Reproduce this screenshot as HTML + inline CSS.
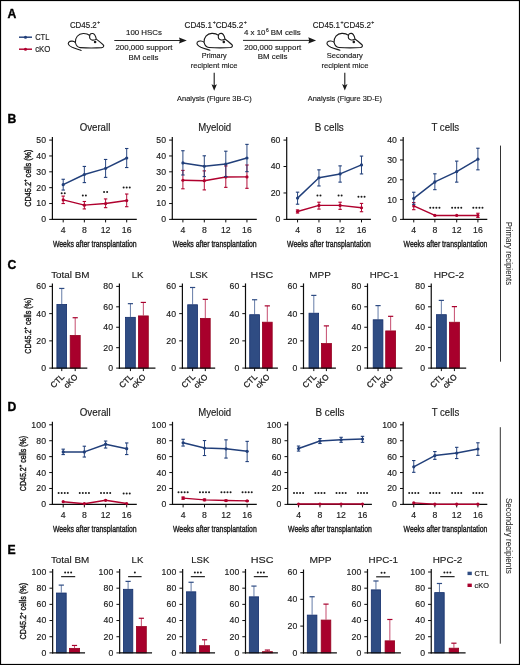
<!DOCTYPE html>
<html><head><meta charset="utf-8"><style>
html,body{margin:0;padding:0;background:#fff;}
svg{display:block;font-family:"Liberation Sans", sans-serif;will-change:transform;}
</style></head><body>
<svg width="520" height="665" viewBox="0 0 520 665">
<rect x="0.5" y="0.5" width="519" height="664" fill="#fff" stroke="#000" stroke-width="1.2"/>
<text x="7.40" y="17.60" font-size="12.2" text-anchor="start" font-weight="bold" fill="#000"  stroke="#000" stroke-width="0.35">A</text>
<text x="7.40" y="122.80" font-size="12.2" text-anchor="start" font-weight="bold" fill="#000"  stroke="#000" stroke-width="0.35">B</text>
<text x="7.40" y="269.30" font-size="12.2" text-anchor="start" font-weight="bold" fill="#000"  stroke="#000" stroke-width="0.35">C</text>
<text x="7.40" y="410.70" font-size="12.2" text-anchor="start" font-weight="bold" fill="#000"  stroke="#000" stroke-width="0.35">D</text>
<text x="7.40" y="554.00" font-size="12.2" text-anchor="start" font-weight="bold" fill="#000"  stroke="#000" stroke-width="0.35">E</text>
<line x1="19.00" y1="37.20" x2="32.00" y2="37.20" stroke="#213f7a" stroke-width="1.45" />
<circle cx="25.5" cy="37.2" r="1.55" fill="#213f7a"/>
<line x1="19.00" y1="49.20" x2="32.00" y2="49.20" stroke="#b0002e" stroke-width="1.45" />
<circle cx="25.5" cy="49.2" r="1.55" fill="#b0002e"/>
<text x="35.20" y="40.40" font-size="8.4" text-anchor="start" font-weight="normal" fill="#1a1a1a" textLength="14.2" lengthAdjust="spacingAndGlyphs"  stroke="#1a1a1a" stroke-width="0.15">CTL</text>
<text x="35.20" y="52.40" font-size="8.4" text-anchor="start" font-weight="normal" fill="#1a1a1a" textLength="15.3" lengthAdjust="spacingAndGlyphs"  stroke="#1a1a1a" stroke-width="0.15">cKO</text>
<text x="69.90" y="27.90" font-size="8.4" text-anchor="start" fill="#1a1a1a" stroke="#1a1a1a" stroke-width="0.15" textLength="30.2" lengthAdjust="spacingAndGlyphs">CD45.2<tspan font-size="5.2" dx="0.5" dy="-3.7">+</tspan></text>
<text x="184.50" y="27.90" font-size="8.4" text-anchor="start" fill="#1a1a1a" stroke="#1a1a1a" stroke-width="0.15" textLength="62.4" lengthAdjust="spacingAndGlyphs">CD45.1<tspan font-size="5.4" dx="0.5" dy="-3.9">+</tspan><tspan dy="3.9">CD45.2</tspan><tspan font-size="5.4" dx="0.5" dy="-3.9">+</tspan></text>
<text x="312.80" y="27.90" font-size="8.4" text-anchor="start" fill="#1a1a1a" stroke="#1a1a1a" stroke-width="0.15" textLength="61.6" lengthAdjust="spacingAndGlyphs">CD45.1<tspan font-size="5.4" dx="0.5" dy="-3.9">+</tspan><tspan dy="3.9">CD45.2</tspan><tspan font-size="5.4" dx="0.5" dy="-3.9">+</tspan></text>
<line x1="114.30" y1="40.50" x2="181.80" y2="40.50" stroke="#1a1a1a" stroke-width="0.95" />
<path d="M186.80,40.50 L179.00,37.40 L179.90,40.50 L179.00,43.60 Z" fill="#1a1a1a"/>
<line x1="243.00" y1="40.40" x2="311.10" y2="40.40" stroke="#1a1a1a" stroke-width="0.95" />
<path d="M316.10,40.40 L308.30,37.30 L309.20,40.40 L308.30,43.50 Z" fill="#1a1a1a"/>
<line x1="214.20" y1="72.70" x2="214.20" y2="86.80" stroke="#1a1a1a" stroke-width="1.1" />
<path d="M214.20,90.80 L211.50,84.30 L214.20,85.60 L216.90,84.30 Z" fill="#1a1a1a"/>
<line x1="344.80" y1="72.70" x2="344.80" y2="86.60" stroke="#1a1a1a" stroke-width="1.1" />
<path d="M344.80,90.60 L342.10,84.10 L344.80,85.40 L347.50,84.10 Z" fill="#1a1a1a"/>
<text x="144.00" y="34.90" font-size="7.9" text-anchor="middle" font-weight="normal" fill="#1a1a1a"  stroke="#1a1a1a" stroke-width="0.15">100 HSCs</text>
<text x="144.00" y="49.80" font-size="7.9" text-anchor="middle" font-weight="normal" fill="#1a1a1a"  stroke="#1a1a1a" stroke-width="0.15">200,000 support</text>
<text x="143.50" y="59.60" font-size="7.9" text-anchor="middle" font-weight="normal" fill="#1a1a1a"  stroke="#1a1a1a" stroke-width="0.15">BM cells</text>
<text x="272.30" y="35.00" font-size="7.9" text-anchor="middle" fill="#1a1a1a" stroke="#1a1a1a" stroke-width="0.15">4 x 10<tspan font-size="4.9" dx="0.5" dy="-3.3">6</tspan><tspan dy="3.3"> BM cells</tspan></text>
<text x="272.70" y="49.60" font-size="7.9" text-anchor="middle" font-weight="normal" fill="#1a1a1a"  stroke="#1a1a1a" stroke-width="0.15">200,000 support</text>
<text x="272.60" y="59.20" font-size="7.9" text-anchor="middle" font-weight="normal" fill="#1a1a1a"  stroke="#1a1a1a" stroke-width="0.15">BM cells</text>
<text x="214.20" y="57.85" font-size="7.9" text-anchor="middle" font-weight="normal" fill="#1a1a1a" textLength="25.0" lengthAdjust="spacingAndGlyphs"  stroke="#1a1a1a" stroke-width="0.15">Primary</text>
<text x="214.10" y="67.80" font-size="7.9" text-anchor="middle" font-weight="normal" fill="#1a1a1a" textLength="46.8" lengthAdjust="spacingAndGlyphs"  stroke="#1a1a1a" stroke-width="0.15">recipient mice</text>
<text x="344.70" y="57.85" font-size="7.9" text-anchor="middle" font-weight="normal" fill="#1a1a1a" textLength="36.0" lengthAdjust="spacingAndGlyphs"  stroke="#1a1a1a" stroke-width="0.15">Secondary</text>
<text x="344.90" y="67.80" font-size="7.9" text-anchor="middle" font-weight="normal" fill="#1a1a1a" textLength="47.0" lengthAdjust="spacingAndGlyphs"  stroke="#1a1a1a" stroke-width="0.15">recipient mice</text>
<text x="214.40" y="100.60" font-size="7.9" text-anchor="middle" font-weight="normal" fill="#1a1a1a" textLength="74.6" lengthAdjust="spacingAndGlyphs"  stroke="#1a1a1a" stroke-width="0.15">Analysis (Figure 3B-C)</text>
<text x="344.90" y="100.55" font-size="7.9" text-anchor="middle" font-weight="normal" fill="#1a1a1a" textLength="74.2" lengthAdjust="spacingAndGlyphs"  stroke="#1a1a1a" stroke-width="0.15">Analysis (Figure 3D-E)</text>
<g transform="translate(68.20,43.50)"><path d="M7.2,-1 C6.8,-5.8 10,-9.9 15,-10 C18,-10.1 20.2,-9.2 21.6,-8.0 C21.6,-9.7 23.2,-10.2 24.6,-10 C26.4,-9.7 27.4,-7.6 28.1,-4.4 C31,-2.2 34.2,0.2 35.4,1.8 C35.8,2.9 35.2,3.9 33.5,4.1 C27,4.6 18,4.5 12,4.1 C9.6,3.9 8,2.5 7.2,-1 M21.6,-8.0 C21.1,-6.2 21.6,-4.3 23.6,-3.6 C25,-3.1 26.8,-3.5 28.1,-4.4 M7.2,-1 C5.6,-2.6 2.2,-3 0.4,-1.2 C-0.8,0.6 1.2,2.6 4,3.8 C7,5 10.4,6 13,6.9" fill="none" stroke="#1a1a1a" stroke-width="1.1" stroke-linecap="round" stroke-linejoin="round"/><circle cx="26.9" cy="-1.5" r="1.3" fill="#1a1a1a"/></g>
<g transform="translate(196.90,43.40)"><path d="M7.2,-1 C6.8,-5.8 10,-9.9 15,-10 C18,-10.1 20.2,-9.2 21.6,-8.0 C21.6,-9.7 23.2,-10.2 24.6,-10 C26.4,-9.7 27.4,-7.6 28.1,-4.4 C31,-2.2 34.2,0.2 35.4,1.8 C35.8,2.9 35.2,3.9 33.5,4.1 C27,4.6 18,4.5 12,4.1 C9.6,3.9 8,2.5 7.2,-1 M21.6,-8.0 C21.1,-6.2 21.6,-4.3 23.6,-3.6 C25,-3.1 26.8,-3.5 28.1,-4.4 M7.2,-1 C5.6,-2.6 2.2,-3 0.4,-1.2 C-0.8,0.6 1.2,2.6 4,3.8 C7,5 10.4,6 13,6.9" fill="none" stroke="#1a1a1a" stroke-width="1.1" stroke-linecap="round" stroke-linejoin="round"/><circle cx="26.9" cy="-1.5" r="1.3" fill="#1a1a1a"/></g>
<g transform="translate(326.90,43.40)"><path d="M7.2,-1 C6.8,-5.8 10,-9.9 15,-10 C18,-10.1 20.2,-9.2 21.6,-8.0 C21.6,-9.7 23.2,-10.2 24.6,-10 C26.4,-9.7 27.4,-7.6 28.1,-4.4 C31,-2.2 34.2,0.2 35.4,1.8 C35.8,2.9 35.2,3.9 33.5,4.1 C27,4.6 18,4.5 12,4.1 C9.6,3.9 8,2.5 7.2,-1 M21.6,-8.0 C21.1,-6.2 21.6,-4.3 23.6,-3.6 C25,-3.1 26.8,-3.5 28.1,-4.4 M7.2,-1 C5.6,-2.6 2.2,-3 0.4,-1.2 C-0.8,0.6 1.2,2.6 4,3.8 C7,5 10.4,6 13,6.9" fill="none" stroke="#1a1a1a" stroke-width="1.1" stroke-linecap="round" stroke-linejoin="round"/><circle cx="26.9" cy="-1.5" r="1.3" fill="#1a1a1a"/></g>
<line x1="52.40" y1="137.10" x2="52.40" y2="220.00" stroke="#0d0d0d" stroke-width="1.2" />
<line x1="49.20" y1="219.40" x2="52.40" y2="219.40" stroke="#0d0d0d" stroke-width="1.0" />
<text x="46.30" y="222.35" font-size="8.7" text-anchor="end" fill="#1a1a1a" stroke="#1a1a1a" stroke-width="0.15" letter-spacing="0.15">0</text>
<line x1="49.20" y1="203.54" x2="52.40" y2="203.54" stroke="#0d0d0d" stroke-width="1.0" />
<text x="46.30" y="206.49" font-size="8.7" text-anchor="end" fill="#1a1a1a" stroke="#1a1a1a" stroke-width="0.15" letter-spacing="0.15">10</text>
<line x1="49.20" y1="187.68" x2="52.40" y2="187.68" stroke="#0d0d0d" stroke-width="1.0" />
<text x="46.30" y="190.63" font-size="8.7" text-anchor="end" fill="#1a1a1a" stroke="#1a1a1a" stroke-width="0.15" letter-spacing="0.15">20</text>
<line x1="49.20" y1="171.82" x2="52.40" y2="171.82" stroke="#0d0d0d" stroke-width="1.0" />
<text x="46.30" y="174.77" font-size="8.7" text-anchor="end" fill="#1a1a1a" stroke="#1a1a1a" stroke-width="0.15" letter-spacing="0.15">30</text>
<line x1="49.20" y1="155.96" x2="52.40" y2="155.96" stroke="#0d0d0d" stroke-width="1.0" />
<text x="46.30" y="158.91" font-size="8.7" text-anchor="end" fill="#1a1a1a" stroke="#1a1a1a" stroke-width="0.15" letter-spacing="0.15">40</text>
<line x1="49.20" y1="140.10" x2="52.40" y2="140.10" stroke="#0d0d0d" stroke-width="1.0" />
<text x="46.30" y="143.05" font-size="8.7" text-anchor="end" fill="#1a1a1a" stroke="#1a1a1a" stroke-width="0.15" letter-spacing="0.15">50</text>
<line x1="51.85" y1="219.40" x2="136.80" y2="219.40" stroke="#0d0d0d" stroke-width="1.2" />
<line x1="63.20" y1="219.40" x2="63.20" y2="222.40" stroke="#0d0d0d" stroke-width="1.0" />
<text x="63.20" y="233.30" font-size="8.7" text-anchor="middle" font-weight="normal" fill="#1a1a1a"  stroke="#1a1a1a" stroke-width="0.15">4</text>
<line x1="84.35" y1="219.40" x2="84.35" y2="222.40" stroke="#0d0d0d" stroke-width="1.0" />
<text x="84.35" y="233.30" font-size="8.7" text-anchor="middle" font-weight="normal" fill="#1a1a1a"  stroke="#1a1a1a" stroke-width="0.15">8</text>
<line x1="105.60" y1="219.40" x2="105.60" y2="222.40" stroke="#0d0d0d" stroke-width="1.0" />
<text x="105.60" y="233.30" font-size="8.7" text-anchor="middle" font-weight="normal" fill="#1a1a1a"  stroke="#1a1a1a" stroke-width="0.15">12</text>
<line x1="126.70" y1="219.40" x2="126.70" y2="222.40" stroke="#0d0d0d" stroke-width="1.0" />
<text x="126.70" y="233.30" font-size="8.7" text-anchor="middle" font-weight="normal" fill="#1a1a1a"  stroke="#1a1a1a" stroke-width="0.15">16</text>
<text x="94.80" y="247.00" font-size="9.8" text-anchor="middle" font-weight="normal" fill="#1a1a1a" textLength="83.8" lengthAdjust="spacingAndGlyphs"  stroke="#1a1a1a" stroke-width="0.4">Weeks after transplantation</text>
<text x="95.00" y="131.35" font-size="10.1" text-anchor="middle" font-weight="normal" fill="#1a1a1a" textLength="30.6" lengthAdjust="spacingAndGlyphs"  stroke="#1a1a1a" stroke-width="0.15">Overall</text>
<line x1="63.20" y1="196.09" x2="63.20" y2="203.54" stroke="#b0002e" stroke-width="0.95" />
<line x1="61.50" y1="196.09" x2="64.90" y2="196.09" stroke="#b0002e" stroke-width="1.1" />
<line x1="61.50" y1="203.54" x2="64.90" y2="203.54" stroke="#b0002e" stroke-width="1.1" />
<line x1="84.35" y1="201.48" x2="84.35" y2="208.93" stroke="#b0002e" stroke-width="0.95" />
<line x1="82.65" y1="201.48" x2="86.05" y2="201.48" stroke="#b0002e" stroke-width="1.1" />
<line x1="82.65" y1="208.93" x2="86.05" y2="208.93" stroke="#b0002e" stroke-width="1.1" />
<line x1="105.60" y1="198.94" x2="105.60" y2="207.66" stroke="#b0002e" stroke-width="0.95" />
<line x1="103.90" y1="198.94" x2="107.30" y2="198.94" stroke="#b0002e" stroke-width="1.1" />
<line x1="103.90" y1="207.66" x2="107.30" y2="207.66" stroke="#b0002e" stroke-width="1.1" />
<line x1="126.70" y1="194.02" x2="126.70" y2="206.71" stroke="#b0002e" stroke-width="0.95" />
<line x1="125.00" y1="194.02" x2="128.40" y2="194.02" stroke="#b0002e" stroke-width="1.1" />
<line x1="125.00" y1="206.71" x2="128.40" y2="206.71" stroke="#b0002e" stroke-width="1.1" />
<polyline points="63.20,199.89 84.35,205.13 105.60,203.54 126.70,200.53" fill="none" stroke="#b0002e" stroke-width="1.45" stroke-linejoin="round"/>
<circle cx="63.20" cy="199.89" r="1.6" fill="#b0002e"/>
<circle cx="84.35" cy="205.13" r="1.6" fill="#b0002e"/>
<circle cx="105.60" cy="203.54" r="1.6" fill="#b0002e"/>
<circle cx="126.70" cy="200.53" r="1.6" fill="#b0002e"/>
<line x1="63.20" y1="179.27" x2="63.20" y2="190.06" stroke="#213f7a" stroke-width="0.95" />
<line x1="61.50" y1="179.27" x2="64.90" y2="179.27" stroke="#213f7a" stroke-width="1.1" />
<line x1="61.50" y1="190.06" x2="64.90" y2="190.06" stroke="#213f7a" stroke-width="1.1" />
<line x1="84.35" y1="166.43" x2="84.35" y2="182.60" stroke="#213f7a" stroke-width="0.95" />
<line x1="82.65" y1="166.43" x2="86.05" y2="166.43" stroke="#213f7a" stroke-width="1.1" />
<line x1="82.65" y1="182.60" x2="86.05" y2="182.60" stroke="#213f7a" stroke-width="1.1" />
<line x1="105.60" y1="159.45" x2="105.60" y2="177.37" stroke="#213f7a" stroke-width="0.95" />
<line x1="103.90" y1="159.45" x2="107.30" y2="159.45" stroke="#213f7a" stroke-width="1.1" />
<line x1="103.90" y1="177.37" x2="107.30" y2="177.37" stroke="#213f7a" stroke-width="1.1" />
<line x1="126.70" y1="148.51" x2="126.70" y2="167.54" stroke="#213f7a" stroke-width="0.95" />
<line x1="125.00" y1="148.51" x2="128.40" y2="148.51" stroke="#213f7a" stroke-width="1.1" />
<line x1="125.00" y1="167.54" x2="128.40" y2="167.54" stroke="#213f7a" stroke-width="1.1" />
<polyline points="63.20,184.67 84.35,174.52 105.60,168.33 126.70,158.02" fill="none" stroke="#213f7a" stroke-width="1.45" stroke-linejoin="round"/>
<circle cx="63.20" cy="184.67" r="1.6" fill="#213f7a"/>
<circle cx="84.35" cy="174.52" r="1.6" fill="#213f7a"/>
<circle cx="105.60" cy="168.33" r="1.6" fill="#213f7a"/>
<circle cx="126.70" cy="158.02" r="1.6" fill="#213f7a"/>
<circle cx="61.68" cy="193.30" r="1.0" fill="#1a1a1a"/>
<circle cx="64.73" cy="193.30" r="1.0" fill="#1a1a1a"/>
<circle cx="82.82" cy="195.40" r="1.0" fill="#1a1a1a"/>
<circle cx="85.88" cy="195.40" r="1.0" fill="#1a1a1a"/>
<circle cx="104.07" cy="192.10" r="1.0" fill="#1a1a1a"/>
<circle cx="107.12" cy="192.10" r="1.0" fill="#1a1a1a"/>
<circle cx="123.65" cy="187.50" r="1.0" fill="#1a1a1a"/>
<circle cx="126.70" cy="187.50" r="1.0" fill="#1a1a1a"/>
<circle cx="129.75" cy="187.50" r="1.0" fill="#1a1a1a"/>
<text transform="translate(30.90,178.10) rotate(-90)" x="0" y="0" font-size="9.9" text-anchor="middle" fill="#1a1a1a" stroke="#1a1a1a" stroke-width="0.42" textLength="57.2" lengthAdjust="spacingAndGlyphs">CD45.2<tspan font-size="5.94" dy="-3.6">+</tspan><tspan dy="3.6"> cells (%)</tspan></text>
<line x1="172.30" y1="137.10" x2="172.30" y2="220.00" stroke="#0d0d0d" stroke-width="1.2" />
<line x1="169.10" y1="219.40" x2="172.30" y2="219.40" stroke="#0d0d0d" stroke-width="1.0" />
<text x="166.20" y="222.35" font-size="8.7" text-anchor="end" fill="#1a1a1a" stroke="#1a1a1a" stroke-width="0.15" letter-spacing="0.15">0</text>
<line x1="169.10" y1="203.54" x2="172.30" y2="203.54" stroke="#0d0d0d" stroke-width="1.0" />
<text x="166.20" y="206.49" font-size="8.7" text-anchor="end" fill="#1a1a1a" stroke="#1a1a1a" stroke-width="0.15" letter-spacing="0.15">10</text>
<line x1="169.10" y1="187.68" x2="172.30" y2="187.68" stroke="#0d0d0d" stroke-width="1.0" />
<text x="166.20" y="190.63" font-size="8.7" text-anchor="end" fill="#1a1a1a" stroke="#1a1a1a" stroke-width="0.15" letter-spacing="0.15">20</text>
<line x1="169.10" y1="171.82" x2="172.30" y2="171.82" stroke="#0d0d0d" stroke-width="1.0" />
<text x="166.20" y="174.77" font-size="8.7" text-anchor="end" fill="#1a1a1a" stroke="#1a1a1a" stroke-width="0.15" letter-spacing="0.15">30</text>
<line x1="169.10" y1="155.96" x2="172.30" y2="155.96" stroke="#0d0d0d" stroke-width="1.0" />
<text x="166.20" y="158.91" font-size="8.7" text-anchor="end" fill="#1a1a1a" stroke="#1a1a1a" stroke-width="0.15" letter-spacing="0.15">40</text>
<line x1="169.10" y1="140.10" x2="172.30" y2="140.10" stroke="#0d0d0d" stroke-width="1.0" />
<text x="166.20" y="143.05" font-size="8.7" text-anchor="end" fill="#1a1a1a" stroke="#1a1a1a" stroke-width="0.15" letter-spacing="0.15">50</text>
<line x1="171.75" y1="219.40" x2="256.80" y2="219.40" stroke="#0d0d0d" stroke-width="1.2" />
<line x1="182.90" y1="219.40" x2="182.90" y2="222.40" stroke="#0d0d0d" stroke-width="1.0" />
<text x="182.90" y="233.30" font-size="8.7" text-anchor="middle" font-weight="normal" fill="#1a1a1a"  stroke="#1a1a1a" stroke-width="0.15">4</text>
<line x1="204.30" y1="219.40" x2="204.30" y2="222.40" stroke="#0d0d0d" stroke-width="1.0" />
<text x="204.30" y="233.30" font-size="8.7" text-anchor="middle" font-weight="normal" fill="#1a1a1a"  stroke="#1a1a1a" stroke-width="0.15">8</text>
<line x1="225.80" y1="219.40" x2="225.80" y2="222.40" stroke="#0d0d0d" stroke-width="1.0" />
<text x="225.80" y="233.30" font-size="8.7" text-anchor="middle" font-weight="normal" fill="#1a1a1a"  stroke="#1a1a1a" stroke-width="0.15">12</text>
<line x1="246.95" y1="219.40" x2="246.95" y2="222.40" stroke="#0d0d0d" stroke-width="1.0" />
<text x="246.95" y="233.30" font-size="8.7" text-anchor="middle" font-weight="normal" fill="#1a1a1a"  stroke="#1a1a1a" stroke-width="0.15">16</text>
<text x="214.75" y="247.00" font-size="9.8" text-anchor="middle" font-weight="normal" fill="#1a1a1a" textLength="83.8" lengthAdjust="spacingAndGlyphs"  stroke="#1a1a1a" stroke-width="0.4">Weeks after transplantation</text>
<text x="214.70" y="131.20" font-size="10.1" text-anchor="middle" font-weight="normal" fill="#1a1a1a" textLength="33.00000000000001" lengthAdjust="spacingAndGlyphs"  stroke="#1a1a1a" stroke-width="0.15">Myeloid</text>
<line x1="182.90" y1="170.39" x2="182.90" y2="188.79" stroke="#b0002e" stroke-width="0.95" />
<line x1="181.20" y1="170.39" x2="184.60" y2="170.39" stroke="#b0002e" stroke-width="1.1" />
<line x1="181.20" y1="188.79" x2="184.60" y2="188.79" stroke="#b0002e" stroke-width="1.1" />
<line x1="204.30" y1="170.87" x2="204.30" y2="189.90" stroke="#b0002e" stroke-width="0.95" />
<line x1="202.60" y1="170.87" x2="206.00" y2="170.87" stroke="#b0002e" stroke-width="1.1" />
<line x1="202.60" y1="189.90" x2="206.00" y2="189.90" stroke="#b0002e" stroke-width="1.1" />
<line x1="225.80" y1="165.95" x2="225.80" y2="187.36" stroke="#b0002e" stroke-width="0.95" />
<line x1="224.10" y1="165.95" x2="227.50" y2="165.95" stroke="#b0002e" stroke-width="1.1" />
<line x1="224.10" y1="187.36" x2="227.50" y2="187.36" stroke="#b0002e" stroke-width="1.1" />
<line x1="246.95" y1="165.00" x2="246.95" y2="188.31" stroke="#b0002e" stroke-width="0.95" />
<line x1="245.25" y1="165.00" x2="248.65" y2="165.00" stroke="#b0002e" stroke-width="1.1" />
<line x1="245.25" y1="188.31" x2="248.65" y2="188.31" stroke="#b0002e" stroke-width="1.1" />
<polyline points="182.90,180.23 204.30,180.70 225.80,177.05 246.95,176.90" fill="none" stroke="#b0002e" stroke-width="1.45" stroke-linejoin="round"/>
<circle cx="182.90" cy="180.23" r="1.6" fill="#b0002e"/>
<circle cx="204.30" cy="180.70" r="1.6" fill="#b0002e"/>
<circle cx="225.80" cy="177.05" r="1.6" fill="#b0002e"/>
<circle cx="246.95" cy="176.90" r="1.6" fill="#b0002e"/>
<line x1="182.90" y1="150.73" x2="182.90" y2="174.99" stroke="#213f7a" stroke-width="0.95" />
<line x1="181.20" y1="150.73" x2="184.60" y2="150.73" stroke="#213f7a" stroke-width="1.1" />
<line x1="181.20" y1="174.99" x2="184.60" y2="174.99" stroke="#213f7a" stroke-width="1.1" />
<line x1="204.30" y1="155.80" x2="204.30" y2="176.58" stroke="#213f7a" stroke-width="0.95" />
<line x1="202.60" y1="155.80" x2="206.00" y2="155.80" stroke="#213f7a" stroke-width="1.1" />
<line x1="202.60" y1="176.58" x2="206.00" y2="176.58" stroke="#213f7a" stroke-width="1.1" />
<line x1="225.80" y1="151.20" x2="225.80" y2="176.58" stroke="#213f7a" stroke-width="0.95" />
<line x1="224.10" y1="151.20" x2="227.50" y2="151.20" stroke="#213f7a" stroke-width="1.1" />
<line x1="224.10" y1="176.58" x2="227.50" y2="176.58" stroke="#213f7a" stroke-width="1.1" />
<line x1="246.95" y1="144.38" x2="246.95" y2="171.66" stroke="#213f7a" stroke-width="0.95" />
<line x1="245.25" y1="144.38" x2="248.65" y2="144.38" stroke="#213f7a" stroke-width="1.1" />
<line x1="245.25" y1="171.66" x2="248.65" y2="171.66" stroke="#213f7a" stroke-width="1.1" />
<polyline points="182.90,162.94 204.30,166.27 225.80,164.05 246.95,158.02" fill="none" stroke="#213f7a" stroke-width="1.45" stroke-linejoin="round"/>
<circle cx="182.90" cy="162.94" r="1.6" fill="#213f7a"/>
<circle cx="204.30" cy="166.27" r="1.6" fill="#213f7a"/>
<circle cx="225.80" cy="164.05" r="1.6" fill="#213f7a"/>
<circle cx="246.95" cy="158.02" r="1.6" fill="#213f7a"/>
<line x1="286.70" y1="137.10" x2="286.70" y2="220.00" stroke="#0d0d0d" stroke-width="1.2" />
<line x1="283.50" y1="219.40" x2="286.70" y2="219.40" stroke="#0d0d0d" stroke-width="1.0" />
<text x="280.60" y="222.35" font-size="8.7" text-anchor="end" fill="#1a1a1a" stroke="#1a1a1a" stroke-width="0.15" letter-spacing="0.15">0</text>
<line x1="283.50" y1="192.97" x2="286.70" y2="192.97" stroke="#0d0d0d" stroke-width="1.0" />
<text x="280.60" y="195.92" font-size="8.7" text-anchor="end" fill="#1a1a1a" stroke="#1a1a1a" stroke-width="0.15" letter-spacing="0.15">20</text>
<line x1="283.50" y1="166.53" x2="286.70" y2="166.53" stroke="#0d0d0d" stroke-width="1.0" />
<text x="280.60" y="169.48" font-size="8.7" text-anchor="end" fill="#1a1a1a" stroke="#1a1a1a" stroke-width="0.15" letter-spacing="0.15">40</text>
<line x1="283.50" y1="140.10" x2="286.70" y2="140.10" stroke="#0d0d0d" stroke-width="1.0" />
<text x="280.60" y="143.05" font-size="8.7" text-anchor="end" fill="#1a1a1a" stroke="#1a1a1a" stroke-width="0.15" letter-spacing="0.15">60</text>
<line x1="286.15" y1="219.40" x2="370.90" y2="219.40" stroke="#0d0d0d" stroke-width="1.2" />
<line x1="297.55" y1="219.40" x2="297.55" y2="222.40" stroke="#0d0d0d" stroke-width="1.0" />
<text x="297.55" y="233.30" font-size="8.7" text-anchor="middle" font-weight="normal" fill="#1a1a1a"  stroke="#1a1a1a" stroke-width="0.15">4</text>
<line x1="318.95" y1="219.40" x2="318.95" y2="222.40" stroke="#0d0d0d" stroke-width="1.0" />
<text x="318.95" y="233.30" font-size="8.7" text-anchor="middle" font-weight="normal" fill="#1a1a1a"  stroke="#1a1a1a" stroke-width="0.15">8</text>
<line x1="340.10" y1="219.40" x2="340.10" y2="222.40" stroke="#0d0d0d" stroke-width="1.0" />
<text x="340.10" y="233.30" font-size="8.7" text-anchor="middle" font-weight="normal" fill="#1a1a1a"  stroke="#1a1a1a" stroke-width="0.15">12</text>
<line x1="361.50" y1="219.40" x2="361.50" y2="222.40" stroke="#0d0d0d" stroke-width="1.0" />
<text x="361.50" y="233.30" font-size="8.7" text-anchor="middle" font-weight="normal" fill="#1a1a1a"  stroke="#1a1a1a" stroke-width="0.15">16</text>
<text x="329.00" y="247.00" font-size="9.8" text-anchor="middle" font-weight="normal" fill="#1a1a1a" textLength="83.8" lengthAdjust="spacingAndGlyphs"  stroke="#1a1a1a" stroke-width="0.4">Weeks after transplantation</text>
<text x="329.30" y="131.20" font-size="10.1" text-anchor="middle" font-weight="normal" fill="#1a1a1a" textLength="28.99999999999998" lengthAdjust="spacingAndGlyphs"  stroke="#1a1a1a" stroke-width="0.15">B cells</text>
<line x1="297.55" y1="209.88" x2="297.55" y2="213.06" stroke="#b0002e" stroke-width="0.95" />
<line x1="295.85" y1="209.88" x2="299.25" y2="209.88" stroke="#b0002e" stroke-width="1.1" />
<line x1="295.85" y1="213.06" x2="299.25" y2="213.06" stroke="#b0002e" stroke-width="1.1" />
<line x1="318.95" y1="202.22" x2="318.95" y2="209.09" stroke="#b0002e" stroke-width="0.95" />
<line x1="317.25" y1="202.22" x2="320.65" y2="202.22" stroke="#b0002e" stroke-width="1.1" />
<line x1="317.25" y1="209.09" x2="320.65" y2="209.09" stroke="#b0002e" stroke-width="1.1" />
<line x1="340.10" y1="202.22" x2="340.10" y2="209.36" stroke="#b0002e" stroke-width="0.95" />
<line x1="338.40" y1="202.22" x2="341.80" y2="202.22" stroke="#b0002e" stroke-width="1.1" />
<line x1="338.40" y1="209.36" x2="341.80" y2="209.36" stroke="#b0002e" stroke-width="1.1" />
<line x1="361.50" y1="203.41" x2="361.50" y2="211.73" stroke="#b0002e" stroke-width="0.95" />
<line x1="359.80" y1="203.41" x2="363.20" y2="203.41" stroke="#b0002e" stroke-width="1.1" />
<line x1="359.80" y1="211.73" x2="363.20" y2="211.73" stroke="#b0002e" stroke-width="1.1" />
<polyline points="297.55,211.47 318.95,205.39 340.10,205.39 361.50,207.77" fill="none" stroke="#b0002e" stroke-width="1.45" stroke-linejoin="round"/>
<circle cx="297.55" cy="211.47" r="1.6" fill="#b0002e"/>
<circle cx="318.95" cy="205.39" r="1.6" fill="#b0002e"/>
<circle cx="340.10" cy="205.39" r="1.6" fill="#b0002e"/>
<circle cx="361.50" cy="207.77" r="1.6" fill="#b0002e"/>
<line x1="297.55" y1="192.17" x2="297.55" y2="204.20" stroke="#213f7a" stroke-width="0.95" />
<line x1="295.85" y1="192.17" x2="299.25" y2="192.17" stroke="#213f7a" stroke-width="1.1" />
<line x1="295.85" y1="204.20" x2="299.25" y2="204.20" stroke="#213f7a" stroke-width="1.1" />
<line x1="318.95" y1="169.84" x2="318.95" y2="185.96" stroke="#213f7a" stroke-width="0.95" />
<line x1="317.25" y1="169.84" x2="320.65" y2="169.84" stroke="#213f7a" stroke-width="1.1" />
<line x1="317.25" y1="185.96" x2="320.65" y2="185.96" stroke="#213f7a" stroke-width="1.1" />
<line x1="340.10" y1="165.87" x2="340.10" y2="182.13" stroke="#213f7a" stroke-width="0.95" />
<line x1="338.40" y1="165.87" x2="341.80" y2="165.87" stroke="#213f7a" stroke-width="1.1" />
<line x1="338.40" y1="182.13" x2="341.80" y2="182.13" stroke="#213f7a" stroke-width="1.1" />
<line x1="361.50" y1="156.09" x2="361.50" y2="173.93" stroke="#213f7a" stroke-width="0.95" />
<line x1="359.80" y1="156.09" x2="363.20" y2="156.09" stroke="#213f7a" stroke-width="1.1" />
<line x1="359.80" y1="173.93" x2="363.20" y2="173.93" stroke="#213f7a" stroke-width="1.1" />
<polyline points="297.55,198.12 318.95,177.77 340.10,173.93 361.50,164.95" fill="none" stroke="#213f7a" stroke-width="1.45" stroke-linejoin="round"/>
<circle cx="297.55" cy="198.12" r="1.6" fill="#213f7a"/>
<circle cx="318.95" cy="177.77" r="1.6" fill="#213f7a"/>
<circle cx="340.10" cy="173.93" r="1.6" fill="#213f7a"/>
<circle cx="361.50" cy="164.95" r="1.6" fill="#213f7a"/>
<circle cx="317.43" cy="195.40" r="1.0" fill="#1a1a1a"/>
<circle cx="320.47" cy="195.40" r="1.0" fill="#1a1a1a"/>
<circle cx="338.58" cy="195.40" r="1.0" fill="#1a1a1a"/>
<circle cx="341.62" cy="195.40" r="1.0" fill="#1a1a1a"/>
<circle cx="358.45" cy="196.70" r="1.0" fill="#1a1a1a"/>
<circle cx="361.50" cy="196.70" r="1.0" fill="#1a1a1a"/>
<circle cx="364.55" cy="196.70" r="1.0" fill="#1a1a1a"/>
<line x1="403.20" y1="137.10" x2="403.20" y2="220.00" stroke="#0d0d0d" stroke-width="1.2" />
<line x1="400.00" y1="219.40" x2="403.20" y2="219.40" stroke="#0d0d0d" stroke-width="1.0" />
<text x="397.10" y="222.35" font-size="8.7" text-anchor="end" fill="#1a1a1a" stroke="#1a1a1a" stroke-width="0.15" letter-spacing="0.15">0</text>
<line x1="400.00" y1="199.57" x2="403.20" y2="199.57" stroke="#0d0d0d" stroke-width="1.0" />
<text x="397.10" y="202.52" font-size="8.7" text-anchor="end" fill="#1a1a1a" stroke="#1a1a1a" stroke-width="0.15" letter-spacing="0.15">10</text>
<line x1="400.00" y1="179.75" x2="403.20" y2="179.75" stroke="#0d0d0d" stroke-width="1.0" />
<text x="397.10" y="182.70" font-size="8.7" text-anchor="end" fill="#1a1a1a" stroke="#1a1a1a" stroke-width="0.15" letter-spacing="0.15">20</text>
<line x1="400.00" y1="159.93" x2="403.20" y2="159.93" stroke="#0d0d0d" stroke-width="1.0" />
<text x="397.10" y="162.88" font-size="8.7" text-anchor="end" fill="#1a1a1a" stroke="#1a1a1a" stroke-width="0.15" letter-spacing="0.15">30</text>
<line x1="400.00" y1="140.10" x2="403.20" y2="140.10" stroke="#0d0d0d" stroke-width="1.0" />
<text x="397.10" y="143.05" font-size="8.7" text-anchor="end" fill="#1a1a1a" stroke="#1a1a1a" stroke-width="0.15" letter-spacing="0.15">40</text>
<line x1="402.65" y1="219.40" x2="487.30" y2="219.40" stroke="#0d0d0d" stroke-width="1.2" />
<line x1="413.75" y1="219.40" x2="413.75" y2="222.40" stroke="#0d0d0d" stroke-width="1.0" />
<text x="413.75" y="233.30" font-size="8.7" text-anchor="middle" font-weight="normal" fill="#1a1a1a"  stroke="#1a1a1a" stroke-width="0.15">4</text>
<line x1="434.85" y1="219.40" x2="434.85" y2="222.40" stroke="#0d0d0d" stroke-width="1.0" />
<text x="434.85" y="233.30" font-size="8.7" text-anchor="middle" font-weight="normal" fill="#1a1a1a"  stroke="#1a1a1a" stroke-width="0.15">8</text>
<line x1="456.70" y1="219.40" x2="456.70" y2="222.40" stroke="#0d0d0d" stroke-width="1.0" />
<text x="456.70" y="233.30" font-size="8.7" text-anchor="middle" font-weight="normal" fill="#1a1a1a"  stroke="#1a1a1a" stroke-width="0.15">12</text>
<line x1="477.90" y1="219.40" x2="477.90" y2="222.40" stroke="#0d0d0d" stroke-width="1.0" />
<text x="477.90" y="233.30" font-size="8.7" text-anchor="middle" font-weight="normal" fill="#1a1a1a"  stroke="#1a1a1a" stroke-width="0.15">16</text>
<text x="445.45" y="247.00" font-size="9.8" text-anchor="middle" font-weight="normal" fill="#1a1a1a" textLength="83.8" lengthAdjust="spacingAndGlyphs"  stroke="#1a1a1a" stroke-width="0.4">Weeks after transplantation</text>
<text x="445.30" y="131.20" font-size="10.1" text-anchor="middle" font-weight="normal" fill="#1a1a1a" textLength="27.79999999999999" lengthAdjust="spacingAndGlyphs"  stroke="#1a1a1a" stroke-width="0.15">T cells</text>
<line x1="413.75" y1="202.55" x2="413.75" y2="209.69" stroke="#b0002e" stroke-width="0.95" />
<line x1="412.05" y1="202.55" x2="415.45" y2="202.55" stroke="#b0002e" stroke-width="1.1" />
<line x1="412.05" y1="209.69" x2="415.45" y2="209.69" stroke="#b0002e" stroke-width="1.1" />
<line x1="477.90" y1="213.25" x2="477.90" y2="217.42" stroke="#b0002e" stroke-width="0.95" />
<line x1="476.20" y1="213.25" x2="479.60" y2="213.25" stroke="#b0002e" stroke-width="1.1" />
<line x1="476.20" y1="217.42" x2="479.60" y2="217.42" stroke="#b0002e" stroke-width="1.1" />
<polyline points="413.75,205.92 434.85,215.44 456.70,215.44 477.90,215.44" fill="none" stroke="#b0002e" stroke-width="1.45" stroke-linejoin="round"/>
<circle cx="413.75" cy="205.92" r="1.6" fill="#b0002e"/>
<circle cx="434.85" cy="215.44" r="1.6" fill="#b0002e"/>
<circle cx="456.70" cy="215.44" r="1.6" fill="#b0002e"/>
<circle cx="477.90" cy="215.44" r="1.6" fill="#b0002e"/>
<line x1="413.75" y1="192.24" x2="413.75" y2="204.33" stroke="#213f7a" stroke-width="0.95" />
<line x1="412.05" y1="192.24" x2="415.45" y2="192.24" stroke="#213f7a" stroke-width="1.1" />
<line x1="412.05" y1="204.33" x2="415.45" y2="204.33" stroke="#213f7a" stroke-width="1.1" />
<line x1="434.85" y1="173.80" x2="434.85" y2="189.66" stroke="#213f7a" stroke-width="0.95" />
<line x1="433.15" y1="173.80" x2="436.55" y2="173.80" stroke="#213f7a" stroke-width="1.1" />
<line x1="433.15" y1="189.66" x2="436.55" y2="189.66" stroke="#213f7a" stroke-width="1.1" />
<line x1="456.70" y1="161.11" x2="456.70" y2="182.13" stroke="#213f7a" stroke-width="0.95" />
<line x1="455.00" y1="161.11" x2="458.40" y2="161.11" stroke="#213f7a" stroke-width="1.1" />
<line x1="455.00" y1="182.13" x2="458.40" y2="182.13" stroke="#213f7a" stroke-width="1.1" />
<line x1="477.90" y1="148.23" x2="477.90" y2="169.84" stroke="#213f7a" stroke-width="0.95" />
<line x1="476.20" y1="148.23" x2="479.60" y2="148.23" stroke="#213f7a" stroke-width="1.1" />
<line x1="476.20" y1="169.84" x2="479.60" y2="169.84" stroke="#213f7a" stroke-width="1.1" />
<polyline points="413.75,198.39 434.85,181.93 456.70,171.62 477.90,159.13" fill="none" stroke="#213f7a" stroke-width="1.45" stroke-linejoin="round"/>
<circle cx="413.75" cy="198.39" r="1.6" fill="#213f7a"/>
<circle cx="434.85" cy="181.93" r="1.6" fill="#213f7a"/>
<circle cx="456.70" cy="171.62" r="1.6" fill="#213f7a"/>
<circle cx="477.90" cy="159.13" r="1.6" fill="#213f7a"/>
<circle cx="430.28" cy="207.70" r="1.0" fill="#1a1a1a"/>
<circle cx="433.33" cy="207.70" r="1.0" fill="#1a1a1a"/>
<circle cx="436.38" cy="207.70" r="1.0" fill="#1a1a1a"/>
<circle cx="439.43" cy="207.70" r="1.0" fill="#1a1a1a"/>
<circle cx="452.12" cy="207.70" r="1.0" fill="#1a1a1a"/>
<circle cx="455.18" cy="207.70" r="1.0" fill="#1a1a1a"/>
<circle cx="458.22" cy="207.70" r="1.0" fill="#1a1a1a"/>
<circle cx="461.27" cy="207.70" r="1.0" fill="#1a1a1a"/>
<circle cx="473.32" cy="207.70" r="1.0" fill="#1a1a1a"/>
<circle cx="476.38" cy="207.70" r="1.0" fill="#1a1a1a"/>
<circle cx="479.42" cy="207.70" r="1.0" fill="#1a1a1a"/>
<circle cx="482.47" cy="207.70" r="1.0" fill="#1a1a1a"/>
<line x1="52.40" y1="421.80" x2="52.40" y2="505.00" stroke="#0d0d0d" stroke-width="1.2" />
<line x1="49.20" y1="504.40" x2="52.40" y2="504.40" stroke="#0d0d0d" stroke-width="1.0" />
<text x="46.30" y="507.35" font-size="8.7" text-anchor="end" fill="#1a1a1a" stroke="#1a1a1a" stroke-width="0.15" letter-spacing="0.15">0</text>
<line x1="49.20" y1="488.48" x2="52.40" y2="488.48" stroke="#0d0d0d" stroke-width="1.0" />
<text x="46.30" y="491.43" font-size="8.7" text-anchor="end" fill="#1a1a1a" stroke="#1a1a1a" stroke-width="0.15" letter-spacing="0.15">20</text>
<line x1="49.20" y1="472.56" x2="52.40" y2="472.56" stroke="#0d0d0d" stroke-width="1.0" />
<text x="46.30" y="475.51" font-size="8.7" text-anchor="end" fill="#1a1a1a" stroke="#1a1a1a" stroke-width="0.15" letter-spacing="0.15">40</text>
<line x1="49.20" y1="456.64" x2="52.40" y2="456.64" stroke="#0d0d0d" stroke-width="1.0" />
<text x="46.30" y="459.59" font-size="8.7" text-anchor="end" fill="#1a1a1a" stroke="#1a1a1a" stroke-width="0.15" letter-spacing="0.15">60</text>
<line x1="49.20" y1="440.72" x2="52.40" y2="440.72" stroke="#0d0d0d" stroke-width="1.0" />
<text x="46.30" y="443.67" font-size="8.7" text-anchor="end" fill="#1a1a1a" stroke="#1a1a1a" stroke-width="0.15" letter-spacing="0.15">80</text>
<line x1="49.20" y1="424.80" x2="52.40" y2="424.80" stroke="#0d0d0d" stroke-width="1.0" />
<text x="46.30" y="427.75" font-size="8.7" text-anchor="end" fill="#1a1a1a" stroke="#1a1a1a" stroke-width="0.15" letter-spacing="0.15">100</text>
<line x1="51.85" y1="504.40" x2="136.80" y2="504.40" stroke="#0d0d0d" stroke-width="1.2" />
<line x1="63.20" y1="504.40" x2="63.20" y2="507.40" stroke="#0d0d0d" stroke-width="1.0" />
<text x="63.20" y="517.50" font-size="8.7" text-anchor="middle" font-weight="normal" fill="#1a1a1a"  stroke="#1a1a1a" stroke-width="0.15">4</text>
<line x1="84.35" y1="504.40" x2="84.35" y2="507.40" stroke="#0d0d0d" stroke-width="1.0" />
<text x="84.35" y="517.50" font-size="8.7" text-anchor="middle" font-weight="normal" fill="#1a1a1a"  stroke="#1a1a1a" stroke-width="0.15">8</text>
<line x1="105.60" y1="504.40" x2="105.60" y2="507.40" stroke="#0d0d0d" stroke-width="1.0" />
<text x="105.60" y="517.50" font-size="8.7" text-anchor="middle" font-weight="normal" fill="#1a1a1a"  stroke="#1a1a1a" stroke-width="0.15">12</text>
<line x1="126.70" y1="504.40" x2="126.70" y2="507.40" stroke="#0d0d0d" stroke-width="1.0" />
<text x="126.70" y="517.50" font-size="8.7" text-anchor="middle" font-weight="normal" fill="#1a1a1a"  stroke="#1a1a1a" stroke-width="0.15">16</text>
<text x="94.80" y="531.50" font-size="9.8" text-anchor="middle" font-weight="normal" fill="#1a1a1a" textLength="83.8" lengthAdjust="spacingAndGlyphs"  stroke="#1a1a1a" stroke-width="0.4">Weeks after transplantation</text>
<text x="95.20" y="416.00" font-size="10.1" text-anchor="middle" font-weight="normal" fill="#1a1a1a" textLength="31.000000000000007" lengthAdjust="spacingAndGlyphs"  stroke="#1a1a1a" stroke-width="0.15">Overall</text>
<polyline points="63.20,501.69 84.35,503.68 105.60,500.34 126.70,503.52" fill="none" stroke="#b0002e" stroke-width="1.45" stroke-linejoin="round"/>
<circle cx="63.20" cy="501.69" r="1.6" fill="#b0002e"/>
<circle cx="84.35" cy="503.68" r="1.6" fill="#b0002e"/>
<circle cx="105.60" cy="500.34" r="1.6" fill="#b0002e"/>
<circle cx="126.70" cy="503.52" r="1.6" fill="#b0002e"/>
<line x1="63.20" y1="449.16" x2="63.20" y2="454.57" stroke="#213f7a" stroke-width="0.95" />
<line x1="61.50" y1="449.16" x2="64.90" y2="449.16" stroke="#213f7a" stroke-width="1.1" />
<line x1="61.50" y1="454.57" x2="64.90" y2="454.57" stroke="#213f7a" stroke-width="1.1" />
<line x1="84.35" y1="446.21" x2="84.35" y2="457.04" stroke="#213f7a" stroke-width="0.95" />
<line x1="82.65" y1="446.21" x2="86.05" y2="446.21" stroke="#213f7a" stroke-width="1.1" />
<line x1="82.65" y1="457.04" x2="86.05" y2="457.04" stroke="#213f7a" stroke-width="1.1" />
<line x1="105.60" y1="441.04" x2="105.60" y2="448.04" stroke="#213f7a" stroke-width="0.95" />
<line x1="103.90" y1="441.04" x2="107.30" y2="441.04" stroke="#213f7a" stroke-width="1.1" />
<line x1="103.90" y1="448.04" x2="107.30" y2="448.04" stroke="#213f7a" stroke-width="1.1" />
<line x1="126.70" y1="442.95" x2="126.70" y2="454.57" stroke="#213f7a" stroke-width="0.95" />
<line x1="125.00" y1="442.95" x2="128.40" y2="442.95" stroke="#213f7a" stroke-width="1.1" />
<line x1="125.00" y1="454.57" x2="128.40" y2="454.57" stroke="#213f7a" stroke-width="1.1" />
<polyline points="63.20,451.94 84.35,451.94 105.60,444.22 126.70,448.68" fill="none" stroke="#213f7a" stroke-width="1.45" stroke-linejoin="round"/>
<circle cx="63.20" cy="451.94" r="1.6" fill="#213f7a"/>
<circle cx="84.35" cy="451.94" r="1.6" fill="#213f7a"/>
<circle cx="105.60" cy="444.22" r="1.6" fill="#213f7a"/>
<circle cx="126.70" cy="448.68" r="1.6" fill="#213f7a"/>
<circle cx="58.62" cy="493.00" r="1.0" fill="#1a1a1a"/>
<circle cx="61.68" cy="493.00" r="1.0" fill="#1a1a1a"/>
<circle cx="64.73" cy="493.00" r="1.0" fill="#1a1a1a"/>
<circle cx="67.78" cy="493.00" r="1.0" fill="#1a1a1a"/>
<circle cx="79.77" cy="493.00" r="1.0" fill="#1a1a1a"/>
<circle cx="82.82" cy="493.00" r="1.0" fill="#1a1a1a"/>
<circle cx="85.88" cy="493.00" r="1.0" fill="#1a1a1a"/>
<circle cx="88.92" cy="493.00" r="1.0" fill="#1a1a1a"/>
<circle cx="101.02" cy="493.00" r="1.0" fill="#1a1a1a"/>
<circle cx="104.07" cy="493.00" r="1.0" fill="#1a1a1a"/>
<circle cx="107.12" cy="493.00" r="1.0" fill="#1a1a1a"/>
<circle cx="110.17" cy="493.00" r="1.0" fill="#1a1a1a"/>
<circle cx="123.65" cy="493.50" r="1.0" fill="#1a1a1a"/>
<circle cx="126.70" cy="493.50" r="1.0" fill="#1a1a1a"/>
<circle cx="129.75" cy="493.50" r="1.0" fill="#1a1a1a"/>
<text transform="translate(25.60,463.50) rotate(-90)" x="0" y="0" font-size="9.9" text-anchor="middle" fill="#1a1a1a" stroke="#1a1a1a" stroke-width="0.42" textLength="55.3" lengthAdjust="spacingAndGlyphs">CD45.2<tspan font-size="5.94" dy="-3.6">+</tspan><tspan dy="3.6"> cells (%)</tspan></text>
<line x1="172.50" y1="421.80" x2="172.50" y2="505.00" stroke="#0d0d0d" stroke-width="1.2" />
<line x1="169.30" y1="504.40" x2="172.50" y2="504.40" stroke="#0d0d0d" stroke-width="1.0" />
<text x="166.40" y="507.35" font-size="8.7" text-anchor="end" fill="#1a1a1a" stroke="#1a1a1a" stroke-width="0.15" letter-spacing="0.15">0</text>
<line x1="169.30" y1="488.48" x2="172.50" y2="488.48" stroke="#0d0d0d" stroke-width="1.0" />
<text x="166.40" y="491.43" font-size="8.7" text-anchor="end" fill="#1a1a1a" stroke="#1a1a1a" stroke-width="0.15" letter-spacing="0.15">20</text>
<line x1="169.30" y1="472.56" x2="172.50" y2="472.56" stroke="#0d0d0d" stroke-width="1.0" />
<text x="166.40" y="475.51" font-size="8.7" text-anchor="end" fill="#1a1a1a" stroke="#1a1a1a" stroke-width="0.15" letter-spacing="0.15">40</text>
<line x1="169.30" y1="456.64" x2="172.50" y2="456.64" stroke="#0d0d0d" stroke-width="1.0" />
<text x="166.40" y="459.59" font-size="8.7" text-anchor="end" fill="#1a1a1a" stroke="#1a1a1a" stroke-width="0.15" letter-spacing="0.15">60</text>
<line x1="169.30" y1="440.72" x2="172.50" y2="440.72" stroke="#0d0d0d" stroke-width="1.0" />
<text x="166.40" y="443.67" font-size="8.7" text-anchor="end" fill="#1a1a1a" stroke="#1a1a1a" stroke-width="0.15" letter-spacing="0.15">80</text>
<line x1="169.30" y1="424.80" x2="172.50" y2="424.80" stroke="#0d0d0d" stroke-width="1.0" />
<text x="166.40" y="427.75" font-size="8.7" text-anchor="end" fill="#1a1a1a" stroke="#1a1a1a" stroke-width="0.15" letter-spacing="0.15">100</text>
<line x1="171.95" y1="504.40" x2="256.80" y2="504.40" stroke="#0d0d0d" stroke-width="1.2" />
<line x1="183.10" y1="504.40" x2="183.10" y2="507.40" stroke="#0d0d0d" stroke-width="1.0" />
<text x="183.10" y="517.50" font-size="8.7" text-anchor="middle" font-weight="normal" fill="#1a1a1a"  stroke="#1a1a1a" stroke-width="0.15">4</text>
<line x1="204.50" y1="504.40" x2="204.50" y2="507.40" stroke="#0d0d0d" stroke-width="1.0" />
<text x="204.50" y="517.50" font-size="8.7" text-anchor="middle" font-weight="normal" fill="#1a1a1a"  stroke="#1a1a1a" stroke-width="0.15">8</text>
<line x1="226.00" y1="504.40" x2="226.00" y2="507.40" stroke="#0d0d0d" stroke-width="1.0" />
<text x="226.00" y="517.50" font-size="8.7" text-anchor="middle" font-weight="normal" fill="#1a1a1a"  stroke="#1a1a1a" stroke-width="0.15">12</text>
<line x1="247.15" y1="504.40" x2="247.15" y2="507.40" stroke="#0d0d0d" stroke-width="1.0" />
<text x="247.15" y="517.50" font-size="8.7" text-anchor="middle" font-weight="normal" fill="#1a1a1a"  stroke="#1a1a1a" stroke-width="0.15">16</text>
<text x="214.85" y="531.50" font-size="9.8" text-anchor="middle" font-weight="normal" fill="#1a1a1a" textLength="83.8" lengthAdjust="spacingAndGlyphs"  stroke="#1a1a1a" stroke-width="0.4">Weeks after transplantation</text>
<text x="214.70" y="415.60" font-size="10.1" text-anchor="middle" font-weight="normal" fill="#1a1a1a" textLength="33.00000000000001" lengthAdjust="spacingAndGlyphs"  stroke="#1a1a1a" stroke-width="0.15">Myeloid</text>
<line x1="183.10" y1="497.00" x2="183.10" y2="499.23" stroke="#b0002e" stroke-width="0.95" />
<line x1="181.40" y1="497.00" x2="184.80" y2="497.00" stroke="#b0002e" stroke-width="1.1" />
<line x1="181.40" y1="499.23" x2="184.80" y2="499.23" stroke="#b0002e" stroke-width="1.1" />
<line x1="204.50" y1="498.99" x2="204.50" y2="500.74" stroke="#b0002e" stroke-width="0.95" />
<line x1="202.80" y1="498.99" x2="206.20" y2="498.99" stroke="#b0002e" stroke-width="1.1" />
<line x1="202.80" y1="500.74" x2="206.20" y2="500.74" stroke="#b0002e" stroke-width="1.1" />
<line x1="226.00" y1="500.10" x2="226.00" y2="501.06" stroke="#b0002e" stroke-width="0.95" />
<line x1="224.30" y1="500.10" x2="227.70" y2="500.10" stroke="#b0002e" stroke-width="1.1" />
<line x1="224.30" y1="501.06" x2="227.70" y2="501.06" stroke="#b0002e" stroke-width="1.1" />
<line x1="247.15" y1="500.58" x2="247.15" y2="501.22" stroke="#b0002e" stroke-width="0.95" />
<line x1="245.45" y1="500.58" x2="248.85" y2="500.58" stroke="#b0002e" stroke-width="1.1" />
<line x1="245.45" y1="501.22" x2="248.85" y2="501.22" stroke="#b0002e" stroke-width="1.1" />
<polyline points="183.10,498.11 204.50,499.86 226.00,500.58 247.15,500.90" fill="none" stroke="#b0002e" stroke-width="1.45" stroke-linejoin="round"/>
<circle cx="183.10" cy="498.11" r="1.6" fill="#b0002e"/>
<circle cx="204.50" cy="499.86" r="1.6" fill="#b0002e"/>
<circle cx="226.00" cy="500.58" r="1.6" fill="#b0002e"/>
<circle cx="247.15" cy="500.90" r="1.6" fill="#b0002e"/>
<line x1="183.10" y1="439.29" x2="183.10" y2="446.05" stroke="#213f7a" stroke-width="0.95" />
<line x1="181.40" y1="439.29" x2="184.80" y2="439.29" stroke="#213f7a" stroke-width="1.1" />
<line x1="181.40" y1="446.05" x2="184.80" y2="446.05" stroke="#213f7a" stroke-width="1.1" />
<line x1="204.50" y1="440.56" x2="204.50" y2="455.53" stroke="#213f7a" stroke-width="0.95" />
<line x1="202.80" y1="440.56" x2="206.20" y2="440.56" stroke="#213f7a" stroke-width="1.1" />
<line x1="202.80" y1="455.53" x2="206.20" y2="455.53" stroke="#213f7a" stroke-width="1.1" />
<line x1="226.00" y1="439.84" x2="226.00" y2="458.07" stroke="#213f7a" stroke-width="0.95" />
<line x1="224.30" y1="439.84" x2="227.70" y2="439.84" stroke="#213f7a" stroke-width="1.1" />
<line x1="224.30" y1="458.07" x2="227.70" y2="458.07" stroke="#213f7a" stroke-width="1.1" />
<line x1="247.15" y1="441.36" x2="247.15" y2="461.58" stroke="#213f7a" stroke-width="0.95" />
<line x1="245.45" y1="441.36" x2="248.85" y2="441.36" stroke="#213f7a" stroke-width="1.1" />
<line x1="245.45" y1="461.58" x2="248.85" y2="461.58" stroke="#213f7a" stroke-width="1.1" />
<polyline points="183.10,442.79 204.50,448.04 226.00,448.84 247.15,451.31" fill="none" stroke="#213f7a" stroke-width="1.45" stroke-linejoin="round"/>
<circle cx="183.10" cy="442.79" r="1.6" fill="#213f7a"/>
<circle cx="204.50" cy="448.04" r="1.6" fill="#213f7a"/>
<circle cx="226.00" cy="448.84" r="1.6" fill="#213f7a"/>
<circle cx="247.15" cy="451.31" r="1.6" fill="#213f7a"/>
<circle cx="178.53" cy="492.30" r="1.0" fill="#1a1a1a"/>
<circle cx="181.57" cy="492.30" r="1.0" fill="#1a1a1a"/>
<circle cx="184.62" cy="492.30" r="1.0" fill="#1a1a1a"/>
<circle cx="187.67" cy="492.30" r="1.0" fill="#1a1a1a"/>
<circle cx="199.93" cy="492.30" r="1.0" fill="#1a1a1a"/>
<circle cx="202.97" cy="492.30" r="1.0" fill="#1a1a1a"/>
<circle cx="206.03" cy="492.30" r="1.0" fill="#1a1a1a"/>
<circle cx="209.07" cy="492.30" r="1.0" fill="#1a1a1a"/>
<circle cx="221.43" cy="492.30" r="1.0" fill="#1a1a1a"/>
<circle cx="224.47" cy="492.30" r="1.0" fill="#1a1a1a"/>
<circle cx="227.53" cy="492.30" r="1.0" fill="#1a1a1a"/>
<circle cx="230.57" cy="492.30" r="1.0" fill="#1a1a1a"/>
<circle cx="242.57" cy="492.30" r="1.0" fill="#1a1a1a"/>
<circle cx="245.62" cy="492.30" r="1.0" fill="#1a1a1a"/>
<circle cx="248.67" cy="492.30" r="1.0" fill="#1a1a1a"/>
<circle cx="251.72" cy="492.30" r="1.0" fill="#1a1a1a"/>
<line x1="287.70" y1="421.80" x2="287.70" y2="505.00" stroke="#0d0d0d" stroke-width="1.2" />
<line x1="284.50" y1="504.40" x2="287.70" y2="504.40" stroke="#0d0d0d" stroke-width="1.0" />
<text x="281.60" y="507.35" font-size="8.7" text-anchor="end" fill="#1a1a1a" stroke="#1a1a1a" stroke-width="0.15" letter-spacing="0.15">0</text>
<line x1="284.50" y1="488.48" x2="287.70" y2="488.48" stroke="#0d0d0d" stroke-width="1.0" />
<text x="281.60" y="491.43" font-size="8.7" text-anchor="end" fill="#1a1a1a" stroke="#1a1a1a" stroke-width="0.15" letter-spacing="0.15">20</text>
<line x1="284.50" y1="472.56" x2="287.70" y2="472.56" stroke="#0d0d0d" stroke-width="1.0" />
<text x="281.60" y="475.51" font-size="8.7" text-anchor="end" fill="#1a1a1a" stroke="#1a1a1a" stroke-width="0.15" letter-spacing="0.15">40</text>
<line x1="284.50" y1="456.64" x2="287.70" y2="456.64" stroke="#0d0d0d" stroke-width="1.0" />
<text x="281.60" y="459.59" font-size="8.7" text-anchor="end" fill="#1a1a1a" stroke="#1a1a1a" stroke-width="0.15" letter-spacing="0.15">60</text>
<line x1="284.50" y1="440.72" x2="287.70" y2="440.72" stroke="#0d0d0d" stroke-width="1.0" />
<text x="281.60" y="443.67" font-size="8.7" text-anchor="end" fill="#1a1a1a" stroke="#1a1a1a" stroke-width="0.15" letter-spacing="0.15">80</text>
<line x1="284.50" y1="424.80" x2="287.70" y2="424.80" stroke="#0d0d0d" stroke-width="1.0" />
<text x="281.60" y="427.75" font-size="8.7" text-anchor="end" fill="#1a1a1a" stroke="#1a1a1a" stroke-width="0.15" letter-spacing="0.15">100</text>
<line x1="287.15" y1="504.40" x2="371.90" y2="504.40" stroke="#0d0d0d" stroke-width="1.2" />
<line x1="298.55" y1="504.40" x2="298.55" y2="507.40" stroke="#0d0d0d" stroke-width="1.0" />
<text x="298.55" y="517.50" font-size="8.7" text-anchor="middle" font-weight="normal" fill="#1a1a1a"  stroke="#1a1a1a" stroke-width="0.15">4</text>
<line x1="319.95" y1="504.40" x2="319.95" y2="507.40" stroke="#0d0d0d" stroke-width="1.0" />
<text x="319.95" y="517.50" font-size="8.7" text-anchor="middle" font-weight="normal" fill="#1a1a1a"  stroke="#1a1a1a" stroke-width="0.15">8</text>
<line x1="341.10" y1="504.40" x2="341.10" y2="507.40" stroke="#0d0d0d" stroke-width="1.0" />
<text x="341.10" y="517.50" font-size="8.7" text-anchor="middle" font-weight="normal" fill="#1a1a1a"  stroke="#1a1a1a" stroke-width="0.15">12</text>
<line x1="362.50" y1="504.40" x2="362.50" y2="507.40" stroke="#0d0d0d" stroke-width="1.0" />
<text x="362.50" y="517.50" font-size="8.7" text-anchor="middle" font-weight="normal" fill="#1a1a1a"  stroke="#1a1a1a" stroke-width="0.15">16</text>
<text x="330.00" y="531.50" font-size="9.8" text-anchor="middle" font-weight="normal" fill="#1a1a1a" textLength="83.8" lengthAdjust="spacingAndGlyphs"  stroke="#1a1a1a" stroke-width="0.4">Weeks after transplantation</text>
<text x="330.00" y="416.00" font-size="10.1" text-anchor="middle" font-weight="normal" fill="#1a1a1a" textLength="28.99999999999998" lengthAdjust="spacingAndGlyphs"  stroke="#1a1a1a" stroke-width="0.15">B cells</text>
<polyline points="298.55,504.00 319.95,504.00 341.10,504.00 362.50,504.00" fill="none" stroke="#b0002e" stroke-width="1.45" stroke-linejoin="round"/>
<circle cx="298.55" cy="504.00" r="1.6" fill="#b0002e"/>
<circle cx="319.95" cy="504.00" r="1.6" fill="#b0002e"/>
<circle cx="341.10" cy="504.00" r="1.6" fill="#b0002e"/>
<circle cx="362.50" cy="504.00" r="1.6" fill="#b0002e"/>
<line x1="298.55" y1="446.05" x2="298.55" y2="451.07" stroke="#213f7a" stroke-width="0.95" />
<line x1="296.85" y1="446.05" x2="300.25" y2="446.05" stroke="#213f7a" stroke-width="1.1" />
<line x1="296.85" y1="451.07" x2="300.25" y2="451.07" stroke="#213f7a" stroke-width="1.1" />
<line x1="319.95" y1="438.57" x2="319.95" y2="443.51" stroke="#213f7a" stroke-width="0.95" />
<line x1="318.25" y1="438.57" x2="321.65" y2="438.57" stroke="#213f7a" stroke-width="1.1" />
<line x1="318.25" y1="443.51" x2="321.65" y2="443.51" stroke="#213f7a" stroke-width="1.1" />
<line x1="341.10" y1="437.30" x2="341.10" y2="442.31" stroke="#213f7a" stroke-width="0.95" />
<line x1="339.40" y1="437.30" x2="342.80" y2="437.30" stroke="#213f7a" stroke-width="1.1" />
<line x1="339.40" y1="442.31" x2="342.80" y2="442.31" stroke="#213f7a" stroke-width="1.1" />
<line x1="362.50" y1="436.34" x2="362.50" y2="442.31" stroke="#213f7a" stroke-width="0.95" />
<line x1="360.80" y1="436.34" x2="364.20" y2="436.34" stroke="#213f7a" stroke-width="1.1" />
<line x1="360.80" y1="442.31" x2="364.20" y2="442.31" stroke="#213f7a" stroke-width="1.1" />
<polyline points="298.55,448.52 319.95,441.04 341.10,439.84 362.50,439.05" fill="none" stroke="#213f7a" stroke-width="1.45" stroke-linejoin="round"/>
<circle cx="298.55" cy="448.52" r="1.6" fill="#213f7a"/>
<circle cx="319.95" cy="441.04" r="1.6" fill="#213f7a"/>
<circle cx="341.10" cy="439.84" r="1.6" fill="#213f7a"/>
<circle cx="362.50" cy="439.05" r="1.6" fill="#213f7a"/>
<circle cx="293.98" cy="493.00" r="1.0" fill="#1a1a1a"/>
<circle cx="297.03" cy="493.00" r="1.0" fill="#1a1a1a"/>
<circle cx="300.07" cy="493.00" r="1.0" fill="#1a1a1a"/>
<circle cx="303.12" cy="493.00" r="1.0" fill="#1a1a1a"/>
<circle cx="315.38" cy="493.00" r="1.0" fill="#1a1a1a"/>
<circle cx="318.43" cy="493.00" r="1.0" fill="#1a1a1a"/>
<circle cx="321.47" cy="493.00" r="1.0" fill="#1a1a1a"/>
<circle cx="324.52" cy="493.00" r="1.0" fill="#1a1a1a"/>
<circle cx="336.53" cy="493.00" r="1.0" fill="#1a1a1a"/>
<circle cx="339.58" cy="493.00" r="1.0" fill="#1a1a1a"/>
<circle cx="342.62" cy="493.00" r="1.0" fill="#1a1a1a"/>
<circle cx="345.68" cy="493.00" r="1.0" fill="#1a1a1a"/>
<circle cx="357.93" cy="493.00" r="1.0" fill="#1a1a1a"/>
<circle cx="360.98" cy="493.00" r="1.0" fill="#1a1a1a"/>
<circle cx="364.02" cy="493.00" r="1.0" fill="#1a1a1a"/>
<circle cx="367.07" cy="493.00" r="1.0" fill="#1a1a1a"/>
<line x1="403.20" y1="421.80" x2="403.20" y2="505.00" stroke="#0d0d0d" stroke-width="1.2" />
<line x1="400.00" y1="504.40" x2="403.20" y2="504.40" stroke="#0d0d0d" stroke-width="1.0" />
<text x="397.10" y="507.35" font-size="8.7" text-anchor="end" fill="#1a1a1a" stroke="#1a1a1a" stroke-width="0.15" letter-spacing="0.15">0</text>
<line x1="400.00" y1="488.48" x2="403.20" y2="488.48" stroke="#0d0d0d" stroke-width="1.0" />
<text x="397.10" y="491.43" font-size="8.7" text-anchor="end" fill="#1a1a1a" stroke="#1a1a1a" stroke-width="0.15" letter-spacing="0.15">20</text>
<line x1="400.00" y1="472.56" x2="403.20" y2="472.56" stroke="#0d0d0d" stroke-width="1.0" />
<text x="397.10" y="475.51" font-size="8.7" text-anchor="end" fill="#1a1a1a" stroke="#1a1a1a" stroke-width="0.15" letter-spacing="0.15">40</text>
<line x1="400.00" y1="456.64" x2="403.20" y2="456.64" stroke="#0d0d0d" stroke-width="1.0" />
<text x="397.10" y="459.59" font-size="8.7" text-anchor="end" fill="#1a1a1a" stroke="#1a1a1a" stroke-width="0.15" letter-spacing="0.15">60</text>
<line x1="400.00" y1="440.72" x2="403.20" y2="440.72" stroke="#0d0d0d" stroke-width="1.0" />
<text x="397.10" y="443.67" font-size="8.7" text-anchor="end" fill="#1a1a1a" stroke="#1a1a1a" stroke-width="0.15" letter-spacing="0.15">80</text>
<line x1="400.00" y1="424.80" x2="403.20" y2="424.80" stroke="#0d0d0d" stroke-width="1.0" />
<text x="397.10" y="427.75" font-size="8.7" text-anchor="end" fill="#1a1a1a" stroke="#1a1a1a" stroke-width="0.15" letter-spacing="0.15">100</text>
<line x1="402.65" y1="504.40" x2="487.30" y2="504.40" stroke="#0d0d0d" stroke-width="1.2" />
<line x1="413.75" y1="504.40" x2="413.75" y2="507.40" stroke="#0d0d0d" stroke-width="1.0" />
<text x="413.75" y="517.50" font-size="8.7" text-anchor="middle" font-weight="normal" fill="#1a1a1a"  stroke="#1a1a1a" stroke-width="0.15">4</text>
<line x1="434.85" y1="504.40" x2="434.85" y2="507.40" stroke="#0d0d0d" stroke-width="1.0" />
<text x="434.85" y="517.50" font-size="8.7" text-anchor="middle" font-weight="normal" fill="#1a1a1a"  stroke="#1a1a1a" stroke-width="0.15">8</text>
<line x1="456.70" y1="504.40" x2="456.70" y2="507.40" stroke="#0d0d0d" stroke-width="1.0" />
<text x="456.70" y="517.50" font-size="8.7" text-anchor="middle" font-weight="normal" fill="#1a1a1a"  stroke="#1a1a1a" stroke-width="0.15">12</text>
<line x1="477.90" y1="504.40" x2="477.90" y2="507.40" stroke="#0d0d0d" stroke-width="1.0" />
<text x="477.90" y="517.50" font-size="8.7" text-anchor="middle" font-weight="normal" fill="#1a1a1a"  stroke="#1a1a1a" stroke-width="0.15">16</text>
<text x="445.45" y="531.50" font-size="9.8" text-anchor="middle" font-weight="normal" fill="#1a1a1a" textLength="83.8" lengthAdjust="spacingAndGlyphs"  stroke="#1a1a1a" stroke-width="0.4">Weeks after transplantation</text>
<text x="445.45" y="416.00" font-size="10.1" text-anchor="middle" font-weight="normal" fill="#1a1a1a" textLength="27.49999999999998" lengthAdjust="spacingAndGlyphs"  stroke="#1a1a1a" stroke-width="0.15">T cells</text>
<polyline points="413.75,502.89 434.85,504.16 456.70,504.16 477.90,504.16" fill="none" stroke="#b0002e" stroke-width="1.45" stroke-linejoin="round"/>
<circle cx="413.75" cy="502.89" r="1.6" fill="#b0002e"/>
<circle cx="434.85" cy="504.16" r="1.6" fill="#b0002e"/>
<circle cx="456.70" cy="504.16" r="1.6" fill="#b0002e"/>
<circle cx="477.90" cy="504.16" r="1.6" fill="#b0002e"/>
<line x1="413.75" y1="460.54" x2="413.75" y2="472.32" stroke="#213f7a" stroke-width="0.95" />
<line x1="412.05" y1="460.54" x2="415.45" y2="460.54" stroke="#213f7a" stroke-width="1.1" />
<line x1="412.05" y1="472.32" x2="415.45" y2="472.32" stroke="#213f7a" stroke-width="1.1" />
<line x1="434.85" y1="451.55" x2="434.85" y2="459.35" stroke="#213f7a" stroke-width="0.95" />
<line x1="433.15" y1="451.55" x2="436.55" y2="451.55" stroke="#213f7a" stroke-width="1.1" />
<line x1="433.15" y1="459.35" x2="436.55" y2="459.35" stroke="#213f7a" stroke-width="1.1" />
<line x1="456.70" y1="447.33" x2="456.70" y2="458.55" stroke="#213f7a" stroke-width="0.95" />
<line x1="455.00" y1="447.33" x2="458.40" y2="447.33" stroke="#213f7a" stroke-width="1.1" />
<line x1="455.00" y1="458.55" x2="458.40" y2="458.55" stroke="#213f7a" stroke-width="1.1" />
<line x1="477.90" y1="442.79" x2="477.90" y2="455.37" stroke="#213f7a" stroke-width="0.95" />
<line x1="476.20" y1="442.79" x2="479.60" y2="442.79" stroke="#213f7a" stroke-width="1.1" />
<line x1="476.20" y1="455.37" x2="479.60" y2="455.37" stroke="#213f7a" stroke-width="1.1" />
<polyline points="413.75,466.83 434.85,455.53 456.70,453.06 477.90,449.00" fill="none" stroke="#213f7a" stroke-width="1.45" stroke-linejoin="round"/>
<circle cx="413.75" cy="466.83" r="1.6" fill="#213f7a"/>
<circle cx="434.85" cy="455.53" r="1.6" fill="#213f7a"/>
<circle cx="456.70" cy="453.06" r="1.6" fill="#213f7a"/>
<circle cx="477.90" cy="449.00" r="1.6" fill="#213f7a"/>
<circle cx="409.18" cy="493.00" r="1.0" fill="#1a1a1a"/>
<circle cx="412.23" cy="493.00" r="1.0" fill="#1a1a1a"/>
<circle cx="415.27" cy="493.00" r="1.0" fill="#1a1a1a"/>
<circle cx="418.32" cy="493.00" r="1.0" fill="#1a1a1a"/>
<circle cx="430.28" cy="493.00" r="1.0" fill="#1a1a1a"/>
<circle cx="433.33" cy="493.00" r="1.0" fill="#1a1a1a"/>
<circle cx="436.38" cy="493.00" r="1.0" fill="#1a1a1a"/>
<circle cx="439.43" cy="493.00" r="1.0" fill="#1a1a1a"/>
<circle cx="452.12" cy="493.00" r="1.0" fill="#1a1a1a"/>
<circle cx="455.18" cy="493.00" r="1.0" fill="#1a1a1a"/>
<circle cx="458.22" cy="493.00" r="1.0" fill="#1a1a1a"/>
<circle cx="461.27" cy="493.00" r="1.0" fill="#1a1a1a"/>
<circle cx="473.32" cy="493.00" r="1.0" fill="#1a1a1a"/>
<circle cx="476.38" cy="493.00" r="1.0" fill="#1a1a1a"/>
<circle cx="479.42" cy="493.00" r="1.0" fill="#1a1a1a"/>
<circle cx="482.47" cy="493.00" r="1.0" fill="#1a1a1a"/>
<line x1="52.40" y1="283.40" x2="52.40" y2="368.70" stroke="#0d0d0d" stroke-width="1.2" />
<line x1="49.20" y1="368.10" x2="52.40" y2="368.10" stroke="#0d0d0d" stroke-width="1.0" />
<text x="46.30" y="371.05" font-size="8.7" text-anchor="end" fill="#1a1a1a" stroke="#1a1a1a" stroke-width="0.15" letter-spacing="0.15">0</text>
<line x1="49.20" y1="340.87" x2="52.40" y2="340.87" stroke="#0d0d0d" stroke-width="1.0" />
<text x="46.30" y="343.82" font-size="8.7" text-anchor="end" fill="#1a1a1a" stroke="#1a1a1a" stroke-width="0.15" letter-spacing="0.15">20</text>
<line x1="49.20" y1="313.63" x2="52.40" y2="313.63" stroke="#0d0d0d" stroke-width="1.0" />
<text x="46.30" y="316.58" font-size="8.7" text-anchor="end" fill="#1a1a1a" stroke="#1a1a1a" stroke-width="0.15" letter-spacing="0.15">40</text>
<line x1="49.20" y1="286.40" x2="52.40" y2="286.40" stroke="#0d0d0d" stroke-width="1.0" />
<text x="46.30" y="289.35" font-size="8.7" text-anchor="end" fill="#1a1a1a" stroke="#1a1a1a" stroke-width="0.15" letter-spacing="0.15">60</text>
<line x1="61.75" y1="288.44" x2="61.75" y2="304.10" stroke="#4a6598" stroke-width="0.85" />
<line x1="59.15" y1="288.44" x2="64.35" y2="288.44" stroke="#2f4c83" stroke-width="1.2" />
<rect x="56.90" y="304.50" width="9.70" height="63.60" fill="#2f4c83" stroke="#142f6c" stroke-width="0.8"/>
<line x1="75.20" y1="317.72" x2="75.20" y2="335.01" stroke="#bb2d55" stroke-width="0.85" />
<line x1="72.60" y1="317.72" x2="77.80" y2="317.72" stroke="#a8002c" stroke-width="1.2" />
<rect x="70.20" y="335.41" width="10.00" height="32.69" fill="#a8002c" stroke="#95001f" stroke-width="0.8"/>
<line x1="51.85" y1="368.10" x2="87.30" y2="368.10" stroke="#0d0d0d" stroke-width="1.2" />
<line x1="61.75" y1="368.10" x2="61.75" y2="371.10" stroke="#0d0d0d" stroke-width="1.0" />
<line x1="75.20" y1="368.10" x2="75.20" y2="371.10" stroke="#0d0d0d" stroke-width="1.0" />
<text x="70.35" y="277.80" font-size="9.9" text-anchor="middle" font-weight="normal" fill="#1a1a1a" textLength="38.300000000000004" lengthAdjust="spacingAndGlyphs"  stroke="#1a1a1a" stroke-width="0.15">Total BM</text>
<text transform="translate(64.75,377.60) rotate(-45)" font-size="8.2" text-anchor="end" fill="#1a1a1a" stroke="#1a1a1a" stroke-width="0.3">CTL</text>
<text transform="translate(78.20,377.60) rotate(-45)" font-size="8.2" text-anchor="end" fill="#1a1a1a" stroke="#1a1a1a" stroke-width="0.3">cKO</text>
<text transform="translate(30.80,325.70) rotate(-90)" x="0" y="0" font-size="9.9" text-anchor="middle" fill="#1a1a1a" stroke="#1a1a1a" stroke-width="0.42" textLength="56" lengthAdjust="spacingAndGlyphs">CD45.2<tspan font-size="5.94" dy="-3.6">+</tspan><tspan dy="3.6"> cells (%)</tspan></text>
<line x1="119.40" y1="283.40" x2="119.40" y2="368.70" stroke="#0d0d0d" stroke-width="1.2" />
<line x1="116.20" y1="368.10" x2="119.40" y2="368.10" stroke="#0d0d0d" stroke-width="1.0" />
<text x="113.30" y="371.05" font-size="8.7" text-anchor="end" fill="#1a1a1a" stroke="#1a1a1a" stroke-width="0.15" letter-spacing="0.15">0</text>
<line x1="116.20" y1="347.68" x2="119.40" y2="347.68" stroke="#0d0d0d" stroke-width="1.0" />
<text x="113.30" y="350.62" font-size="8.7" text-anchor="end" fill="#1a1a1a" stroke="#1a1a1a" stroke-width="0.15" letter-spacing="0.15">20</text>
<line x1="116.20" y1="327.25" x2="119.40" y2="327.25" stroke="#0d0d0d" stroke-width="1.0" />
<text x="113.30" y="330.20" font-size="8.7" text-anchor="end" fill="#1a1a1a" stroke="#1a1a1a" stroke-width="0.15" letter-spacing="0.15">40</text>
<line x1="116.20" y1="306.82" x2="119.40" y2="306.82" stroke="#0d0d0d" stroke-width="1.0" />
<text x="113.30" y="309.77" font-size="8.7" text-anchor="end" fill="#1a1a1a" stroke="#1a1a1a" stroke-width="0.15" letter-spacing="0.15">60</text>
<line x1="116.20" y1="286.40" x2="119.40" y2="286.40" stroke="#0d0d0d" stroke-width="1.0" />
<text x="113.30" y="289.35" font-size="8.7" text-anchor="end" fill="#1a1a1a" stroke="#1a1a1a" stroke-width="0.15" letter-spacing="0.15">80</text>
<line x1="130.43" y1="303.66" x2="130.43" y2="316.94" stroke="#4a6598" stroke-width="0.85" />
<line x1="127.83" y1="303.66" x2="133.03" y2="303.66" stroke="#2f4c83" stroke-width="1.2" />
<rect x="125.55" y="317.34" width="9.75" height="50.76" fill="#2f4c83" stroke="#142f6c" stroke-width="0.8"/>
<line x1="143.35" y1="302.43" x2="143.35" y2="315.51" stroke="#bb2d55" stroke-width="0.85" />
<line x1="140.75" y1="302.43" x2="145.95" y2="302.43" stroke="#a8002c" stroke-width="1.2" />
<rect x="138.40" y="315.91" width="9.90" height="52.19" fill="#a8002c" stroke="#95001f" stroke-width="0.8"/>
<line x1="118.85" y1="368.10" x2="155.45" y2="368.10" stroke="#0d0d0d" stroke-width="1.2" />
<line x1="130.43" y1="368.10" x2="130.43" y2="371.10" stroke="#0d0d0d" stroke-width="1.0" />
<line x1="143.35" y1="368.10" x2="143.35" y2="371.10" stroke="#0d0d0d" stroke-width="1.0" />
<text x="137.65" y="277.90" font-size="9.9" text-anchor="middle" font-weight="normal" fill="#1a1a1a" textLength="11.699999999999994" lengthAdjust="spacingAndGlyphs"  stroke="#1a1a1a" stroke-width="0.15">LK</text>
<text transform="translate(133.43,377.60) rotate(-45)" font-size="8.2" text-anchor="end" fill="#1a1a1a" stroke="#1a1a1a" stroke-width="0.3">CTL</text>
<text transform="translate(146.35,377.60) rotate(-45)" font-size="8.2" text-anchor="end" fill="#1a1a1a" stroke="#1a1a1a" stroke-width="0.3">cKO</text>
<line x1="182.40" y1="283.40" x2="182.40" y2="368.70" stroke="#0d0d0d" stroke-width="1.2" />
<line x1="179.20" y1="368.10" x2="182.40" y2="368.10" stroke="#0d0d0d" stroke-width="1.0" />
<text x="176.30" y="371.05" font-size="8.7" text-anchor="end" fill="#1a1a1a" stroke="#1a1a1a" stroke-width="0.15" letter-spacing="0.15">0</text>
<line x1="179.20" y1="340.87" x2="182.40" y2="340.87" stroke="#0d0d0d" stroke-width="1.0" />
<text x="176.30" y="343.82" font-size="8.7" text-anchor="end" fill="#1a1a1a" stroke="#1a1a1a" stroke-width="0.15" letter-spacing="0.15">20</text>
<line x1="179.20" y1="313.63" x2="182.40" y2="313.63" stroke="#0d0d0d" stroke-width="1.0" />
<text x="176.30" y="316.58" font-size="8.7" text-anchor="end" fill="#1a1a1a" stroke="#1a1a1a" stroke-width="0.15" letter-spacing="0.15">40</text>
<line x1="179.20" y1="286.40" x2="182.40" y2="286.40" stroke="#0d0d0d" stroke-width="1.0" />
<text x="176.30" y="289.35" font-size="8.7" text-anchor="end" fill="#1a1a1a" stroke="#1a1a1a" stroke-width="0.15" letter-spacing="0.15">60</text>
<line x1="192.60" y1="287.49" x2="192.60" y2="304.37" stroke="#4a6598" stroke-width="0.85" />
<line x1="190.00" y1="287.49" x2="195.20" y2="287.49" stroke="#2f4c83" stroke-width="1.2" />
<rect x="187.70" y="304.77" width="9.80" height="63.33" fill="#2f4c83" stroke="#142f6c" stroke-width="0.8"/>
<line x1="205.30" y1="299.34" x2="205.30" y2="317.99" stroke="#bb2d55" stroke-width="0.85" />
<line x1="202.70" y1="299.34" x2="207.90" y2="299.34" stroke="#a8002c" stroke-width="1.2" />
<rect x="200.40" y="318.39" width="9.80" height="49.71" fill="#a8002c" stroke="#95001f" stroke-width="0.8"/>
<line x1="181.85" y1="368.10" x2="215.20" y2="368.10" stroke="#0d0d0d" stroke-width="1.2" />
<line x1="192.60" y1="368.10" x2="192.60" y2="371.10" stroke="#0d0d0d" stroke-width="1.0" />
<line x1="205.30" y1="368.10" x2="205.30" y2="371.10" stroke="#0d0d0d" stroke-width="1.0" />
<text x="198.85" y="277.80" font-size="9.9" text-anchor="middle" font-weight="normal" fill="#1a1a1a" textLength="17.900000000000013" lengthAdjust="spacingAndGlyphs"  stroke="#1a1a1a" stroke-width="0.15">LSK</text>
<text transform="translate(195.60,377.60) rotate(-45)" font-size="8.2" text-anchor="end" fill="#1a1a1a" stroke="#1a1a1a" stroke-width="0.3">CTL</text>
<text transform="translate(208.30,377.60) rotate(-45)" font-size="8.2" text-anchor="end" fill="#1a1a1a" stroke="#1a1a1a" stroke-width="0.3">cKO</text>
<line x1="245.50" y1="283.40" x2="245.50" y2="368.70" stroke="#0d0d0d" stroke-width="1.2" />
<line x1="242.30" y1="368.10" x2="245.50" y2="368.10" stroke="#0d0d0d" stroke-width="1.0" />
<text x="239.40" y="371.05" font-size="8.7" text-anchor="end" fill="#1a1a1a" stroke="#1a1a1a" stroke-width="0.15" letter-spacing="0.15">0</text>
<line x1="242.30" y1="340.87" x2="245.50" y2="340.87" stroke="#0d0d0d" stroke-width="1.0" />
<text x="239.40" y="343.82" font-size="8.7" text-anchor="end" fill="#1a1a1a" stroke="#1a1a1a" stroke-width="0.15" letter-spacing="0.15">20</text>
<line x1="242.30" y1="313.63" x2="245.50" y2="313.63" stroke="#0d0d0d" stroke-width="1.0" />
<text x="239.40" y="316.58" font-size="8.7" text-anchor="end" fill="#1a1a1a" stroke="#1a1a1a" stroke-width="0.15" letter-spacing="0.15">40</text>
<line x1="242.30" y1="286.40" x2="245.50" y2="286.40" stroke="#0d0d0d" stroke-width="1.0" />
<text x="239.40" y="289.35" font-size="8.7" text-anchor="end" fill="#1a1a1a" stroke="#1a1a1a" stroke-width="0.15" letter-spacing="0.15">60</text>
<line x1="254.60" y1="299.74" x2="254.60" y2="314.31" stroke="#4a6598" stroke-width="0.85" />
<line x1="252.00" y1="299.74" x2="257.20" y2="299.74" stroke="#2f4c83" stroke-width="1.2" />
<rect x="249.70" y="314.71" width="9.80" height="53.39" fill="#2f4c83" stroke="#142f6c" stroke-width="0.8"/>
<line x1="267.30" y1="305.87" x2="267.30" y2="321.80" stroke="#bb2d55" stroke-width="0.85" />
<line x1="264.70" y1="305.87" x2="269.90" y2="305.87" stroke="#a8002c" stroke-width="1.2" />
<rect x="262.40" y="322.20" width="9.80" height="45.90" fill="#a8002c" stroke="#95001f" stroke-width="0.8"/>
<line x1="244.95" y1="368.10" x2="277.90" y2="368.10" stroke="#0d0d0d" stroke-width="1.2" />
<line x1="254.60" y1="368.10" x2="254.60" y2="371.10" stroke="#0d0d0d" stroke-width="1.0" />
<line x1="267.30" y1="368.10" x2="267.30" y2="371.10" stroke="#0d0d0d" stroke-width="1.0" />
<text x="261.85" y="277.70" font-size="9.9" text-anchor="middle" font-weight="normal" fill="#1a1a1a" textLength="22.699999999999967" lengthAdjust="spacingAndGlyphs"  stroke="#1a1a1a" stroke-width="0.15">HSC</text>
<text transform="translate(257.60,377.60) rotate(-45)" font-size="8.2" text-anchor="end" fill="#1a1a1a" stroke="#1a1a1a" stroke-width="0.3">CTL</text>
<text transform="translate(270.30,377.60) rotate(-45)" font-size="8.2" text-anchor="end" fill="#1a1a1a" stroke="#1a1a1a" stroke-width="0.3">cKO</text>
<line x1="303.50" y1="283.40" x2="303.50" y2="368.70" stroke="#0d0d0d" stroke-width="1.2" />
<line x1="300.30" y1="368.10" x2="303.50" y2="368.10" stroke="#0d0d0d" stroke-width="1.0" />
<text x="297.40" y="371.05" font-size="8.7" text-anchor="end" fill="#1a1a1a" stroke="#1a1a1a" stroke-width="0.15" letter-spacing="0.15">0</text>
<line x1="300.30" y1="340.87" x2="303.50" y2="340.87" stroke="#0d0d0d" stroke-width="1.0" />
<text x="297.40" y="343.82" font-size="8.7" text-anchor="end" fill="#1a1a1a" stroke="#1a1a1a" stroke-width="0.15" letter-spacing="0.15">20</text>
<line x1="300.30" y1="313.63" x2="303.50" y2="313.63" stroke="#0d0d0d" stroke-width="1.0" />
<text x="297.40" y="316.58" font-size="8.7" text-anchor="end" fill="#1a1a1a" stroke="#1a1a1a" stroke-width="0.15" letter-spacing="0.15">40</text>
<line x1="300.30" y1="286.40" x2="303.50" y2="286.40" stroke="#0d0d0d" stroke-width="1.0" />
<text x="297.40" y="289.35" font-size="8.7" text-anchor="end" fill="#1a1a1a" stroke="#1a1a1a" stroke-width="0.15" letter-spacing="0.15">60</text>
<line x1="313.80" y1="295.39" x2="313.80" y2="312.82" stroke="#4a6598" stroke-width="0.85" />
<line x1="311.20" y1="295.39" x2="316.40" y2="295.39" stroke="#2f4c83" stroke-width="1.2" />
<rect x="309.00" y="313.22" width="9.60" height="54.88" fill="#2f4c83" stroke="#142f6c" stroke-width="0.8"/>
<line x1="326.40" y1="325.89" x2="326.40" y2="343.18" stroke="#bb2d55" stroke-width="0.85" />
<line x1="323.80" y1="325.89" x2="329.00" y2="325.89" stroke="#a8002c" stroke-width="1.2" />
<rect x="321.40" y="343.58" width="10.00" height="24.52" fill="#a8002c" stroke="#95001f" stroke-width="0.8"/>
<line x1="302.95" y1="368.10" x2="335.90" y2="368.10" stroke="#0d0d0d" stroke-width="1.2" />
<line x1="313.80" y1="368.10" x2="313.80" y2="371.10" stroke="#0d0d0d" stroke-width="1.0" />
<line x1="326.40" y1="368.10" x2="326.40" y2="371.10" stroke="#0d0d0d" stroke-width="1.0" />
<text x="320.00" y="277.80" font-size="9.9" text-anchor="middle" font-weight="normal" fill="#1a1a1a" textLength="21.6" lengthAdjust="spacingAndGlyphs"  stroke="#1a1a1a" stroke-width="0.15">MPP</text>
<text transform="translate(316.80,377.60) rotate(-45)" font-size="8.2" text-anchor="end" fill="#1a1a1a" stroke="#1a1a1a" stroke-width="0.3">CTL</text>
<text transform="translate(329.40,377.60) rotate(-45)" font-size="8.2" text-anchor="end" fill="#1a1a1a" stroke="#1a1a1a" stroke-width="0.3">cKO</text>
<line x1="367.50" y1="283.40" x2="367.50" y2="368.70" stroke="#0d0d0d" stroke-width="1.2" />
<line x1="364.30" y1="368.10" x2="367.50" y2="368.10" stroke="#0d0d0d" stroke-width="1.0" />
<text x="361.40" y="371.05" font-size="8.7" text-anchor="end" fill="#1a1a1a" stroke="#1a1a1a" stroke-width="0.15" letter-spacing="0.15">0</text>
<line x1="364.30" y1="347.68" x2="367.50" y2="347.68" stroke="#0d0d0d" stroke-width="1.0" />
<text x="361.40" y="350.62" font-size="8.7" text-anchor="end" fill="#1a1a1a" stroke="#1a1a1a" stroke-width="0.15" letter-spacing="0.15">20</text>
<line x1="364.30" y1="327.25" x2="367.50" y2="327.25" stroke="#0d0d0d" stroke-width="1.0" />
<text x="361.40" y="330.20" font-size="8.7" text-anchor="end" fill="#1a1a1a" stroke="#1a1a1a" stroke-width="0.15" letter-spacing="0.15">40</text>
<line x1="364.30" y1="306.82" x2="367.50" y2="306.82" stroke="#0d0d0d" stroke-width="1.0" />
<text x="361.40" y="309.77" font-size="8.7" text-anchor="end" fill="#1a1a1a" stroke="#1a1a1a" stroke-width="0.15" letter-spacing="0.15">60</text>
<line x1="364.30" y1="286.40" x2="367.50" y2="286.40" stroke="#0d0d0d" stroke-width="1.0" />
<text x="361.40" y="289.35" font-size="8.7" text-anchor="end" fill="#1a1a1a" stroke="#1a1a1a" stroke-width="0.15" letter-spacing="0.15">80</text>
<line x1="378.05" y1="305.60" x2="378.05" y2="319.39" stroke="#4a6598" stroke-width="0.85" />
<line x1="375.45" y1="305.60" x2="380.65" y2="305.60" stroke="#2f4c83" stroke-width="1.2" />
<rect x="373.20" y="319.79" width="9.70" height="48.31" fill="#2f4c83" stroke="#142f6c" stroke-width="0.8"/>
<line x1="390.65" y1="316.32" x2="390.65" y2="330.52" stroke="#bb2d55" stroke-width="0.85" />
<line x1="388.05" y1="316.32" x2="393.25" y2="316.32" stroke="#a8002c" stroke-width="1.2" />
<rect x="385.70" y="330.92" width="9.90" height="37.18" fill="#a8002c" stroke="#95001f" stroke-width="0.8"/>
<line x1="366.95" y1="368.10" x2="402.40" y2="368.10" stroke="#0d0d0d" stroke-width="1.2" />
<line x1="378.05" y1="368.10" x2="378.05" y2="371.10" stroke="#0d0d0d" stroke-width="1.0" />
<line x1="390.65" y1="368.10" x2="390.65" y2="371.10" stroke="#0d0d0d" stroke-width="1.0" />
<text x="384.20" y="277.80" font-size="9.9" text-anchor="middle" font-weight="normal" fill="#1a1a1a" textLength="28.99999999999998" lengthAdjust="spacingAndGlyphs"  stroke="#1a1a1a" stroke-width="0.15">HPC-1</text>
<text transform="translate(381.05,377.60) rotate(-45)" font-size="8.2" text-anchor="end" fill="#1a1a1a" stroke="#1a1a1a" stroke-width="0.3">CTL</text>
<text transform="translate(393.65,377.60) rotate(-45)" font-size="8.2" text-anchor="end" fill="#1a1a1a" stroke="#1a1a1a" stroke-width="0.3">cKO</text>
<line x1="431.25" y1="283.40" x2="431.25" y2="368.70" stroke="#0d0d0d" stroke-width="1.2" />
<line x1="428.05" y1="368.10" x2="431.25" y2="368.10" stroke="#0d0d0d" stroke-width="1.0" />
<text x="425.15" y="371.05" font-size="8.7" text-anchor="end" fill="#1a1a1a" stroke="#1a1a1a" stroke-width="0.15" letter-spacing="0.15">0</text>
<line x1="428.05" y1="347.68" x2="431.25" y2="347.68" stroke="#0d0d0d" stroke-width="1.0" />
<text x="425.15" y="350.62" font-size="8.7" text-anchor="end" fill="#1a1a1a" stroke="#1a1a1a" stroke-width="0.15" letter-spacing="0.15">20</text>
<line x1="428.05" y1="327.25" x2="431.25" y2="327.25" stroke="#0d0d0d" stroke-width="1.0" />
<text x="425.15" y="330.20" font-size="8.7" text-anchor="end" fill="#1a1a1a" stroke="#1a1a1a" stroke-width="0.15" letter-spacing="0.15">40</text>
<line x1="428.05" y1="306.82" x2="431.25" y2="306.82" stroke="#0d0d0d" stroke-width="1.0" />
<text x="425.15" y="309.77" font-size="8.7" text-anchor="end" fill="#1a1a1a" stroke="#1a1a1a" stroke-width="0.15" letter-spacing="0.15">60</text>
<line x1="428.05" y1="286.40" x2="431.25" y2="286.40" stroke="#0d0d0d" stroke-width="1.0" />
<text x="425.15" y="289.35" font-size="8.7" text-anchor="end" fill="#1a1a1a" stroke="#1a1a1a" stroke-width="0.15" letter-spacing="0.15">80</text>
<line x1="441.35" y1="300.39" x2="441.35" y2="314.28" stroke="#4a6598" stroke-width="0.85" />
<line x1="438.75" y1="300.39" x2="443.95" y2="300.39" stroke="#2f4c83" stroke-width="1.2" />
<rect x="436.40" y="314.68" width="9.90" height="53.42" fill="#2f4c83" stroke="#142f6c" stroke-width="0.8"/>
<line x1="454.40" y1="306.62" x2="454.40" y2="321.84" stroke="#bb2d55" stroke-width="0.85" />
<line x1="451.80" y1="306.62" x2="457.00" y2="306.62" stroke="#a8002c" stroke-width="1.2" />
<rect x="449.40" y="322.24" width="10.00" height="45.86" fill="#a8002c" stroke="#95001f" stroke-width="0.8"/>
<line x1="430.70" y1="368.10" x2="466.20" y2="368.10" stroke="#0d0d0d" stroke-width="1.2" />
<line x1="441.35" y1="368.10" x2="441.35" y2="371.10" stroke="#0d0d0d" stroke-width="1.0" />
<line x1="454.40" y1="368.10" x2="454.40" y2="371.10" stroke="#0d0d0d" stroke-width="1.0" />
<text x="449.00" y="277.80" font-size="9.9" text-anchor="middle" font-weight="normal" fill="#1a1a1a" textLength="30.6" lengthAdjust="spacingAndGlyphs"  stroke="#1a1a1a" stroke-width="0.15">HPC-2</text>
<text transform="translate(444.35,377.60) rotate(-45)" font-size="8.2" text-anchor="end" fill="#1a1a1a" stroke="#1a1a1a" stroke-width="0.3">CTL</text>
<text transform="translate(457.40,377.60) rotate(-45)" font-size="8.2" text-anchor="end" fill="#1a1a1a" stroke="#1a1a1a" stroke-width="0.3">cKO</text>
<line x1="52.65" y1="569.00" x2="52.65" y2="653.50" stroke="#0d0d0d" stroke-width="1.2" />
<line x1="49.45" y1="652.90" x2="52.65" y2="652.90" stroke="#0d0d0d" stroke-width="1.0" />
<text x="46.55" y="655.85" font-size="8.7" text-anchor="end" fill="#1a1a1a" stroke="#1a1a1a" stroke-width="0.15" letter-spacing="0.15">0</text>
<line x1="49.45" y1="636.72" x2="52.65" y2="636.72" stroke="#0d0d0d" stroke-width="1.0" />
<text x="46.55" y="639.67" font-size="8.7" text-anchor="end" fill="#1a1a1a" stroke="#1a1a1a" stroke-width="0.15" letter-spacing="0.15">20</text>
<line x1="49.45" y1="620.54" x2="52.65" y2="620.54" stroke="#0d0d0d" stroke-width="1.0" />
<text x="46.55" y="623.49" font-size="8.7" text-anchor="end" fill="#1a1a1a" stroke="#1a1a1a" stroke-width="0.15" letter-spacing="0.15">40</text>
<line x1="49.45" y1="604.36" x2="52.65" y2="604.36" stroke="#0d0d0d" stroke-width="1.0" />
<text x="46.55" y="607.31" font-size="8.7" text-anchor="end" fill="#1a1a1a" stroke="#1a1a1a" stroke-width="0.15" letter-spacing="0.15">60</text>
<line x1="49.45" y1="588.18" x2="52.65" y2="588.18" stroke="#0d0d0d" stroke-width="1.0" />
<text x="46.55" y="591.13" font-size="8.7" text-anchor="end" fill="#1a1a1a" stroke="#1a1a1a" stroke-width="0.15" letter-spacing="0.15">80</text>
<line x1="49.45" y1="572.00" x2="52.65" y2="572.00" stroke="#0d0d0d" stroke-width="1.0" />
<text x="46.55" y="574.95" font-size="8.7" text-anchor="end" fill="#1a1a1a" stroke="#1a1a1a" stroke-width="0.15" letter-spacing="0.15">100</text>
<line x1="61.30" y1="585.11" x2="61.30" y2="592.63" stroke="#4a6598" stroke-width="0.85" />
<line x1="58.70" y1="585.11" x2="63.90" y2="585.11" stroke="#2f4c83" stroke-width="1.2" />
<rect x="56.40" y="593.03" width="9.80" height="59.87" fill="#2f4c83" stroke="#142f6c" stroke-width="0.8"/>
<line x1="74.50" y1="645.46" x2="74.50" y2="647.97" stroke="#bb2d55" stroke-width="0.85" />
<line x1="71.90" y1="645.46" x2="77.10" y2="645.46" stroke="#a8002c" stroke-width="1.2" />
<rect x="69.40" y="648.37" width="10.20" height="4.53" fill="#a8002c" stroke="#95001f" stroke-width="0.8"/>
<line x1="52.10" y1="652.90" x2="85.05" y2="652.90" stroke="#0d0d0d" stroke-width="1.2" />
<text x="70.10" y="562.80" font-size="9.9" text-anchor="middle" font-weight="normal" fill="#1a1a1a" textLength="38.4" lengthAdjust="spacingAndGlyphs"  stroke="#1a1a1a" stroke-width="0.15">Total BM</text>
<line x1="61.10" y1="576.60" x2="75.20" y2="576.60" stroke="#2a2a2a" stroke-width="1.25" />
<circle cx="65.15" cy="572.45" r="1.0" fill="#1a1a1a"/>
<circle cx="68.15" cy="572.45" r="1.0" fill="#1a1a1a"/>
<circle cx="71.15" cy="572.45" r="1.0" fill="#1a1a1a"/>
<text transform="translate(26.20,611.20) rotate(-90)" x="0" y="0" font-size="9.9" text-anchor="middle" fill="#1a1a1a" stroke="#1a1a1a" stroke-width="0.42" textLength="56.7" lengthAdjust="spacingAndGlyphs">CD45.2<tspan font-size="5.94" dy="-3.6">+</tspan><tspan dy="3.6"> cells (%)</tspan></text>
<line x1="119.65" y1="569.00" x2="119.65" y2="653.50" stroke="#0d0d0d" stroke-width="1.2" />
<line x1="116.45" y1="652.90" x2="119.65" y2="652.90" stroke="#0d0d0d" stroke-width="1.0" />
<text x="113.55" y="655.85" font-size="8.7" text-anchor="end" fill="#1a1a1a" stroke="#1a1a1a" stroke-width="0.15" letter-spacing="0.15">0</text>
<line x1="116.45" y1="636.72" x2="119.65" y2="636.72" stroke="#0d0d0d" stroke-width="1.0" />
<text x="113.55" y="639.67" font-size="8.7" text-anchor="end" fill="#1a1a1a" stroke="#1a1a1a" stroke-width="0.15" letter-spacing="0.15">20</text>
<line x1="116.45" y1="620.54" x2="119.65" y2="620.54" stroke="#0d0d0d" stroke-width="1.0" />
<text x="113.55" y="623.49" font-size="8.7" text-anchor="end" fill="#1a1a1a" stroke="#1a1a1a" stroke-width="0.15" letter-spacing="0.15">40</text>
<line x1="116.45" y1="604.36" x2="119.65" y2="604.36" stroke="#0d0d0d" stroke-width="1.0" />
<text x="113.55" y="607.31" font-size="8.7" text-anchor="end" fill="#1a1a1a" stroke="#1a1a1a" stroke-width="0.15" letter-spacing="0.15">60</text>
<line x1="116.45" y1="588.18" x2="119.65" y2="588.18" stroke="#0d0d0d" stroke-width="1.0" />
<text x="113.55" y="591.13" font-size="8.7" text-anchor="end" fill="#1a1a1a" stroke="#1a1a1a" stroke-width="0.15" letter-spacing="0.15">80</text>
<line x1="116.45" y1="572.00" x2="119.65" y2="572.00" stroke="#0d0d0d" stroke-width="1.0" />
<text x="113.55" y="574.95" font-size="8.7" text-anchor="end" fill="#1a1a1a" stroke="#1a1a1a" stroke-width="0.15" letter-spacing="0.15">100</text>
<line x1="128.10" y1="581.38" x2="128.10" y2="588.91" stroke="#4a6598" stroke-width="0.85" />
<line x1="125.50" y1="581.38" x2="130.70" y2="581.38" stroke="#2f4c83" stroke-width="1.2" />
<rect x="123.40" y="589.31" width="9.40" height="63.59" fill="#2f4c83" stroke="#142f6c" stroke-width="0.8"/>
<line x1="141.35" y1="618.27" x2="141.35" y2="626.20" stroke="#bb2d55" stroke-width="0.85" />
<line x1="138.75" y1="618.27" x2="143.95" y2="618.27" stroke="#a8002c" stroke-width="1.2" />
<rect x="136.40" y="626.60" width="9.90" height="26.30" fill="#a8002c" stroke="#95001f" stroke-width="0.8"/>
<line x1="119.10" y1="652.90" x2="152.05" y2="652.90" stroke="#0d0d0d" stroke-width="1.2" />
<text x="137.50" y="562.70" font-size="9.9" text-anchor="middle" font-weight="normal" fill="#1a1a1a" textLength="11.799999999999988" lengthAdjust="spacingAndGlyphs"  stroke="#1a1a1a" stroke-width="0.15">LK</text>
<line x1="128.10" y1="576.60" x2="141.60" y2="576.60" stroke="#2a2a2a" stroke-width="1.25" />
<circle cx="134.85" cy="572.45" r="1.0" fill="#1a1a1a"/>
<line x1="182.65" y1="569.00" x2="182.65" y2="653.50" stroke="#0d0d0d" stroke-width="1.2" />
<line x1="179.45" y1="652.90" x2="182.65" y2="652.90" stroke="#0d0d0d" stroke-width="1.0" />
<text x="176.55" y="655.85" font-size="8.7" text-anchor="end" fill="#1a1a1a" stroke="#1a1a1a" stroke-width="0.15" letter-spacing="0.15">0</text>
<line x1="179.45" y1="636.72" x2="182.65" y2="636.72" stroke="#0d0d0d" stroke-width="1.0" />
<text x="176.55" y="639.67" font-size="8.7" text-anchor="end" fill="#1a1a1a" stroke="#1a1a1a" stroke-width="0.15" letter-spacing="0.15">20</text>
<line x1="179.45" y1="620.54" x2="182.65" y2="620.54" stroke="#0d0d0d" stroke-width="1.0" />
<text x="176.55" y="623.49" font-size="8.7" text-anchor="end" fill="#1a1a1a" stroke="#1a1a1a" stroke-width="0.15" letter-spacing="0.15">40</text>
<line x1="179.45" y1="604.36" x2="182.65" y2="604.36" stroke="#0d0d0d" stroke-width="1.0" />
<text x="176.55" y="607.31" font-size="8.7" text-anchor="end" fill="#1a1a1a" stroke="#1a1a1a" stroke-width="0.15" letter-spacing="0.15">60</text>
<line x1="179.45" y1="588.18" x2="182.65" y2="588.18" stroke="#0d0d0d" stroke-width="1.0" />
<text x="176.55" y="591.13" font-size="8.7" text-anchor="end" fill="#1a1a1a" stroke="#1a1a1a" stroke-width="0.15" letter-spacing="0.15">80</text>
<line x1="179.45" y1="572.00" x2="182.65" y2="572.00" stroke="#0d0d0d" stroke-width="1.0" />
<text x="176.55" y="574.95" font-size="8.7" text-anchor="end" fill="#1a1a1a" stroke="#1a1a1a" stroke-width="0.15" letter-spacing="0.15">100</text>
<line x1="191.10" y1="582.27" x2="191.10" y2="591.42" stroke="#4a6598" stroke-width="0.85" />
<line x1="188.50" y1="582.27" x2="193.70" y2="582.27" stroke="#2f4c83" stroke-width="1.2" />
<rect x="186.40" y="591.82" width="9.40" height="61.08" fill="#2f4c83" stroke="#142f6c" stroke-width="0.8"/>
<line x1="204.57" y1="639.79" x2="204.57" y2="645.30" stroke="#bb2d55" stroke-width="0.85" />
<line x1="201.97" y1="639.79" x2="207.17" y2="639.79" stroke="#a8002c" stroke-width="1.2" />
<rect x="199.55" y="645.70" width="10.05" height="7.20" fill="#a8002c" stroke="#95001f" stroke-width="0.8"/>
<line x1="182.10" y1="652.90" x2="215.05" y2="652.90" stroke="#0d0d0d" stroke-width="1.2" />
<text x="200.35" y="562.70" font-size="9.9" text-anchor="middle" font-weight="normal" fill="#1a1a1a" textLength="18.1" lengthAdjust="spacingAndGlyphs"  stroke="#1a1a1a" stroke-width="0.15">LSK</text>
<line x1="190.80" y1="576.60" x2="204.90" y2="576.60" stroke="#2a2a2a" stroke-width="1.25" />
<circle cx="194.85" cy="572.45" r="1.0" fill="#1a1a1a"/>
<circle cx="197.85" cy="572.45" r="1.0" fill="#1a1a1a"/>
<circle cx="200.85" cy="572.45" r="1.0" fill="#1a1a1a"/>
<line x1="245.50" y1="569.00" x2="245.50" y2="653.50" stroke="#0d0d0d" stroke-width="1.2" />
<line x1="242.30" y1="652.90" x2="245.50" y2="652.90" stroke="#0d0d0d" stroke-width="1.0" />
<text x="239.40" y="655.85" font-size="8.7" text-anchor="end" fill="#1a1a1a" stroke="#1a1a1a" stroke-width="0.15" letter-spacing="0.15">0</text>
<line x1="242.30" y1="636.72" x2="245.50" y2="636.72" stroke="#0d0d0d" stroke-width="1.0" />
<text x="239.40" y="639.67" font-size="8.7" text-anchor="end" fill="#1a1a1a" stroke="#1a1a1a" stroke-width="0.15" letter-spacing="0.15">20</text>
<line x1="242.30" y1="620.54" x2="245.50" y2="620.54" stroke="#0d0d0d" stroke-width="1.0" />
<text x="239.40" y="623.49" font-size="8.7" text-anchor="end" fill="#1a1a1a" stroke="#1a1a1a" stroke-width="0.15" letter-spacing="0.15">40</text>
<line x1="242.30" y1="604.36" x2="245.50" y2="604.36" stroke="#0d0d0d" stroke-width="1.0" />
<text x="239.40" y="607.31" font-size="8.7" text-anchor="end" fill="#1a1a1a" stroke="#1a1a1a" stroke-width="0.15" letter-spacing="0.15">60</text>
<line x1="242.30" y1="588.18" x2="245.50" y2="588.18" stroke="#0d0d0d" stroke-width="1.0" />
<text x="239.40" y="591.13" font-size="8.7" text-anchor="end" fill="#1a1a1a" stroke="#1a1a1a" stroke-width="0.15" letter-spacing="0.15">80</text>
<line x1="242.30" y1="572.00" x2="245.50" y2="572.00" stroke="#0d0d0d" stroke-width="1.0" />
<text x="239.40" y="574.95" font-size="8.7" text-anchor="end" fill="#1a1a1a" stroke="#1a1a1a" stroke-width="0.15" letter-spacing="0.15">100</text>
<line x1="253.95" y1="586.08" x2="253.95" y2="596.43" stroke="#4a6598" stroke-width="0.85" />
<line x1="251.35" y1="586.08" x2="256.55" y2="586.08" stroke="#2f4c83" stroke-width="1.2" />
<rect x="249.30" y="596.83" width="9.30" height="56.07" fill="#2f4c83" stroke="#142f6c" stroke-width="0.8"/>
<line x1="267.40" y1="650.07" x2="267.40" y2="651.28" stroke="#bb2d55" stroke-width="0.85" />
<line x1="264.80" y1="650.07" x2="270.00" y2="650.07" stroke="#a8002c" stroke-width="1.2" />
<rect x="262.40" y="651.68" width="10.00" height="1.22" fill="#a8002c" stroke="#95001f" stroke-width="0.8"/>
<line x1="244.95" y1="652.90" x2="277.90" y2="652.90" stroke="#0d0d0d" stroke-width="1.2" />
<text x="262.10" y="562.70" font-size="9.9" text-anchor="middle" font-weight="normal" fill="#1a1a1a" textLength="22.79999999999999" lengthAdjust="spacingAndGlyphs"  stroke="#1a1a1a" stroke-width="0.15">HSC</text>
<line x1="253.80" y1="576.60" x2="267.90" y2="576.60" stroke="#2a2a2a" stroke-width="1.25" />
<circle cx="257.85" cy="572.45" r="1.0" fill="#1a1a1a"/>
<circle cx="260.85" cy="572.45" r="1.0" fill="#1a1a1a"/>
<circle cx="263.85" cy="572.45" r="1.0" fill="#1a1a1a"/>
<line x1="303.50" y1="569.50" x2="303.50" y2="653.50" stroke="#0d0d0d" stroke-width="1.2" />
<line x1="300.30" y1="652.90" x2="303.50" y2="652.90" stroke="#0d0d0d" stroke-width="1.0" />
<text x="297.40" y="655.85" font-size="8.7" text-anchor="end" fill="#1a1a1a" stroke="#1a1a1a" stroke-width="0.15" letter-spacing="0.15">0</text>
<line x1="300.30" y1="626.10" x2="303.50" y2="626.10" stroke="#0d0d0d" stroke-width="1.0" />
<text x="297.40" y="629.05" font-size="8.7" text-anchor="end" fill="#1a1a1a" stroke="#1a1a1a" stroke-width="0.15" letter-spacing="0.15">20</text>
<line x1="300.30" y1="599.30" x2="303.50" y2="599.30" stroke="#0d0d0d" stroke-width="1.0" />
<text x="297.40" y="602.25" font-size="8.7" text-anchor="end" fill="#1a1a1a" stroke="#1a1a1a" stroke-width="0.15" letter-spacing="0.15">40</text>
<line x1="300.30" y1="572.50" x2="303.50" y2="572.50" stroke="#0d0d0d" stroke-width="1.0" />
<text x="297.40" y="575.45" font-size="8.7" text-anchor="end" fill="#1a1a1a" stroke="#1a1a1a" stroke-width="0.15" letter-spacing="0.15">60</text>
<line x1="312.10" y1="596.75" x2="312.10" y2="614.71" stroke="#4a6598" stroke-width="0.85" />
<line x1="309.50" y1="596.75" x2="314.70" y2="596.75" stroke="#2f4c83" stroke-width="1.2" />
<rect x="307.30" y="615.11" width="9.60" height="37.79" fill="#2f4c83" stroke="#142f6c" stroke-width="0.8"/>
<line x1="326.00" y1="604.12" x2="326.00" y2="619.67" stroke="#bb2d55" stroke-width="0.85" />
<line x1="323.40" y1="604.12" x2="328.60" y2="604.12" stroke="#a8002c" stroke-width="1.2" />
<rect x="321.20" y="620.07" width="9.60" height="32.83" fill="#a8002c" stroke="#95001f" stroke-width="0.8"/>
<line x1="302.95" y1="652.90" x2="336.90" y2="652.90" stroke="#0d0d0d" stroke-width="1.2" />
<text x="320.60" y="562.70" font-size="9.9" text-anchor="middle" font-weight="normal" fill="#1a1a1a" textLength="22.199999999999967" lengthAdjust="spacingAndGlyphs"  stroke="#1a1a1a" stroke-width="0.15">MPP</text>
<line x1="367.50" y1="569.00" x2="367.50" y2="653.50" stroke="#0d0d0d" stroke-width="1.2" />
<line x1="364.30" y1="652.90" x2="367.50" y2="652.90" stroke="#0d0d0d" stroke-width="1.0" />
<text x="361.40" y="655.85" font-size="8.7" text-anchor="end" fill="#1a1a1a" stroke="#1a1a1a" stroke-width="0.15" letter-spacing="0.15">0</text>
<line x1="364.30" y1="636.72" x2="367.50" y2="636.72" stroke="#0d0d0d" stroke-width="1.0" />
<text x="361.40" y="639.67" font-size="8.7" text-anchor="end" fill="#1a1a1a" stroke="#1a1a1a" stroke-width="0.15" letter-spacing="0.15">20</text>
<line x1="364.30" y1="620.54" x2="367.50" y2="620.54" stroke="#0d0d0d" stroke-width="1.0" />
<text x="361.40" y="623.49" font-size="8.7" text-anchor="end" fill="#1a1a1a" stroke="#1a1a1a" stroke-width="0.15" letter-spacing="0.15">40</text>
<line x1="364.30" y1="604.36" x2="367.50" y2="604.36" stroke="#0d0d0d" stroke-width="1.0" />
<text x="361.40" y="607.31" font-size="8.7" text-anchor="end" fill="#1a1a1a" stroke="#1a1a1a" stroke-width="0.15" letter-spacing="0.15">60</text>
<line x1="364.30" y1="588.18" x2="367.50" y2="588.18" stroke="#0d0d0d" stroke-width="1.0" />
<text x="361.40" y="591.13" font-size="8.7" text-anchor="end" fill="#1a1a1a" stroke="#1a1a1a" stroke-width="0.15" letter-spacing="0.15">80</text>
<line x1="364.30" y1="572.00" x2="367.50" y2="572.00" stroke="#0d0d0d" stroke-width="1.0" />
<text x="361.40" y="574.95" font-size="8.7" text-anchor="end" fill="#1a1a1a" stroke="#1a1a1a" stroke-width="0.15" letter-spacing="0.15">100</text>
<line x1="375.95" y1="580.98" x2="375.95" y2="589.47" stroke="#4a6598" stroke-width="0.85" />
<line x1="373.35" y1="580.98" x2="378.55" y2="580.98" stroke="#2f4c83" stroke-width="1.2" />
<rect x="371.30" y="589.87" width="9.30" height="63.03" fill="#2f4c83" stroke="#142f6c" stroke-width="0.8"/>
<line x1="389.85" y1="619.49" x2="389.85" y2="640.44" stroke="#bb2d55" stroke-width="0.85" />
<line x1="387.25" y1="619.49" x2="392.45" y2="619.49" stroke="#a8002c" stroke-width="1.2" />
<rect x="385.10" y="640.84" width="9.50" height="12.06" fill="#a8002c" stroke="#95001f" stroke-width="0.8"/>
<line x1="366.95" y1="652.90" x2="400.90" y2="652.90" stroke="#0d0d0d" stroke-width="1.2" />
<text x="383.30" y="562.70" font-size="9.9" text-anchor="middle" font-weight="normal" fill="#1a1a1a" textLength="29.400000000000013" lengthAdjust="spacingAndGlyphs"  stroke="#1a1a1a" stroke-width="0.15">HPC-1</text>
<line x1="376.15" y1="576.80" x2="390.00" y2="576.80" stroke="#2a2a2a" stroke-width="1.25" />
<circle cx="381.57" cy="572.65" r="1.0" fill="#1a1a1a"/>
<circle cx="384.57" cy="572.65" r="1.0" fill="#1a1a1a"/>
<line x1="431.25" y1="569.00" x2="431.25" y2="653.50" stroke="#0d0d0d" stroke-width="1.2" />
<line x1="428.05" y1="652.90" x2="431.25" y2="652.90" stroke="#0d0d0d" stroke-width="1.0" />
<text x="425.15" y="655.85" font-size="8.7" text-anchor="end" fill="#1a1a1a" stroke="#1a1a1a" stroke-width="0.15" letter-spacing="0.15">0</text>
<line x1="428.05" y1="636.72" x2="431.25" y2="636.72" stroke="#0d0d0d" stroke-width="1.0" />
<text x="425.15" y="639.67" font-size="8.7" text-anchor="end" fill="#1a1a1a" stroke="#1a1a1a" stroke-width="0.15" letter-spacing="0.15">20</text>
<line x1="428.05" y1="620.54" x2="431.25" y2="620.54" stroke="#0d0d0d" stroke-width="1.0" />
<text x="425.15" y="623.49" font-size="8.7" text-anchor="end" fill="#1a1a1a" stroke="#1a1a1a" stroke-width="0.15" letter-spacing="0.15">40</text>
<line x1="428.05" y1="604.36" x2="431.25" y2="604.36" stroke="#0d0d0d" stroke-width="1.0" />
<text x="425.15" y="607.31" font-size="8.7" text-anchor="end" fill="#1a1a1a" stroke="#1a1a1a" stroke-width="0.15" letter-spacing="0.15">60</text>
<line x1="428.05" y1="588.18" x2="431.25" y2="588.18" stroke="#0d0d0d" stroke-width="1.0" />
<text x="425.15" y="591.13" font-size="8.7" text-anchor="end" fill="#1a1a1a" stroke="#1a1a1a" stroke-width="0.15" letter-spacing="0.15">80</text>
<line x1="428.05" y1="572.00" x2="431.25" y2="572.00" stroke="#0d0d0d" stroke-width="1.0" />
<text x="425.15" y="574.95" font-size="8.7" text-anchor="end" fill="#1a1a1a" stroke="#1a1a1a" stroke-width="0.15" letter-spacing="0.15">100</text>
<line x1="439.45" y1="583.49" x2="439.45" y2="592.23" stroke="#4a6598" stroke-width="0.85" />
<line x1="436.85" y1="583.49" x2="442.05" y2="583.49" stroke="#2f4c83" stroke-width="1.2" />
<rect x="434.70" y="592.62" width="9.50" height="60.27" fill="#2f4c83" stroke="#142f6c" stroke-width="0.8"/>
<line x1="453.90" y1="643.19" x2="453.90" y2="647.80" stroke="#bb2d55" stroke-width="0.85" />
<line x1="451.30" y1="643.19" x2="456.50" y2="643.19" stroke="#a8002c" stroke-width="1.2" />
<rect x="449.20" y="648.20" width="9.40" height="4.70" fill="#a8002c" stroke="#95001f" stroke-width="0.8"/>
<line x1="430.70" y1="652.90" x2="465.60" y2="652.90" stroke="#0d0d0d" stroke-width="1.2" />
<text x="447.50" y="562.70" font-size="9.9" text-anchor="middle" font-weight="normal" fill="#1a1a1a" textLength="29.6" lengthAdjust="spacingAndGlyphs"  stroke="#1a1a1a" stroke-width="0.15">HPC-2</text>
<line x1="440.20" y1="576.60" x2="454.60" y2="576.60" stroke="#2a2a2a" stroke-width="1.25" />
<circle cx="444.40" cy="572.45" r="1.0" fill="#1a1a1a"/>
<circle cx="447.40" cy="572.45" r="1.0" fill="#1a1a1a"/>
<circle cx="450.40" cy="572.45" r="1.0" fill="#1a1a1a"/>
<rect x="467.5" y="571.7" width="4.3" height="3.4" fill="#2f4c83"/>
<rect x="467.5" y="583.6" width="4.3" height="3.4" fill="#a8002c"/>
<text x="474.60" y="575.90" font-size="7.4" text-anchor="start" font-weight="normal" fill="#1a1a1a"  stroke="#1a1a1a" stroke-width="0.15">CTL</text>
<text x="474.60" y="587.70" font-size="7.4" text-anchor="start" font-weight="normal" fill="#1a1a1a"  stroke="#1a1a1a" stroke-width="0.15">cKO</text>
<line x1="500.50" y1="145.60" x2="500.50" y2="361.70" stroke="#333" stroke-width="1.0" />
<line x1="500.30" y1="427.20" x2="500.30" y2="643.70" stroke="#333" stroke-width="1.0" />
<text transform="translate(505.6,253.4) rotate(90)" font-size="8.6" text-anchor="middle" fill="#1a1a1a" textLength="63.4" lengthAdjust="spacingAndGlyphs">Primary recipients</text>
<text transform="translate(505.6,535.8) rotate(90)" font-size="8.6" text-anchor="middle" fill="#1a1a1a" textLength="75.8" lengthAdjust="spacingAndGlyphs">Secondary recipients</text>
</svg></body></html>
